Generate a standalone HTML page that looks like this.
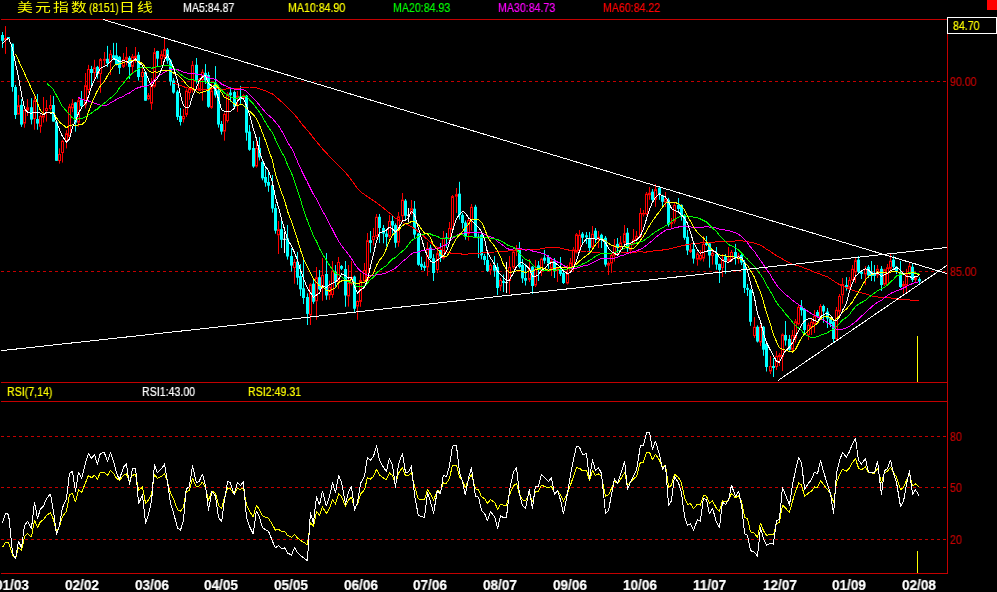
<!DOCTYPE html>
<html><head><meta charset="utf-8"><title>美元指数日线</title>
<style>
html,body{margin:0;padding:0;background:#000;}
#c{position:relative;width:997px;height:592px;overflow:hidden;background:#000;font-family:"Liberation Sans","Noto Sans CJK SC",sans-serif;}
.t{position:absolute;white-space:nowrap;font-size:12px;transform-origin:0 0;will-change:transform;-webkit-text-stroke:0.2px currentColor;}
.cj{-webkit-text-stroke:0;font-size:12px;line-height:14px;color:#ffff00;transform:scaleX(1.32);font-family:"Liberation Sans","Noto Sans CJK SC",sans-serif;}
</style></head><body><div id="c">
<svg width="997" height="592" viewBox="0 0 997 592" style="position:absolute;left:0;top:0">
<rect width="997" height="592" fill="#000"/>
<line x1="1" y1="19.5" x2="947" y2="19.5" stroke="#c40000" stroke-width="1"/>
<line x1="1" y1="382.5" x2="947" y2="382.5" stroke="#c40000" stroke-width="1"/>
<line x1="1" y1="401.5" x2="947" y2="401.5" stroke="#c40000" stroke-width="1"/>
<line x1="1" y1="573.5" x2="947" y2="573.5" stroke="#c40000" stroke-width="1"/>
<line x1="947.5" y1="19" x2="947.5" y2="574" stroke="#c40000" stroke-width="1"/>
<line x1="1" y1="81.5" x2="947" y2="81.5" stroke="#c40000" stroke-width="1" stroke-dasharray="3 3"/>
<line x1="1" y1="271.5" x2="947" y2="271.5" stroke="#c40000" stroke-width="1" stroke-dasharray="3 3"/>
<line x1="1" y1="436.5" x2="947" y2="436.5" stroke="#c40000" stroke-width="1" stroke-dasharray="3 3"/>
<line x1="1" y1="487.5" x2="947" y2="487.5" stroke="#c40000" stroke-width="1" stroke-dasharray="3 3"/>
<line x1="1" y1="539.5" x2="947" y2="539.5" stroke="#c40000" stroke-width="1" stroke-dasharray="3 3"/>
<rect x="987" y="0" width="10" height="10" fill="#ff0000"/>
<g><path d="M2.5 32.0V47.9" stroke="#00ffff" stroke-width="1"/><rect x="1.0" y="35.0" width="3" height="5.8" fill="#00ffff"/><path d="M5.5 26.1V38.0" stroke="#ff0000" stroke-width="1"/><path d="M5.5 40.3V53.9" stroke="#ff0000" stroke-width="1"/><rect x="4.5" y="38.5" width="2" height="1.3" fill="#000" stroke="#ff0000" stroke-width="1"/><path d="M8.5 37.0V38.7" stroke="#00ffff" stroke-width="1"/><rect x="7.0" y="37.0" width="3" height="1.7" fill="#00ffff"/><path d="M12.5 43.7V91.7" stroke="#00ffff" stroke-width="1"/><rect x="11.0" y="43.7" width="3" height="43.3" fill="#00ffff"/><path d="M15.5 84.9V119.0" stroke="#00ffff" stroke-width="1"/><rect x="14.0" y="87.0" width="3" height="28.0" fill="#00ffff"/><path d="M18.5 95.0V105.2" stroke="#ff0000" stroke-width="1"/><rect x="17.5" y="105.7" width="2" height="8.3" fill="#000" stroke="#ff0000" stroke-width="1"/><path d="M21.5 99.1V126.9" stroke="#00ffff" stroke-width="1"/><rect x="20.0" y="104.9" width="3" height="19.7" fill="#00ffff"/><path d="M24.5 109.4V110.0" stroke="#ff0000" stroke-width="1"/><path d="M24.5 123.6V127.7" stroke="#ff0000" stroke-width="1"/><rect x="23.5" y="110.5" width="2" height="12.6" fill="#000" stroke="#ff0000" stroke-width="1"/><path d="M27.5 99.1V107.2" stroke="#ff0000" stroke-width="1"/><path d="M27.5 110.5V116.0" stroke="#ff0000" stroke-width="1"/><rect x="26.5" y="107.7" width="2" height="2.3" fill="#000" stroke="#ff0000" stroke-width="1"/><path d="M31.5 98.1V124.4" stroke="#00ffff" stroke-width="1"/><rect x="30.0" y="107.2" width="3" height="12.4" fill="#00ffff"/><path d="M34.5 96.3V100.3" stroke="#ff0000" stroke-width="1"/><path d="M34.5 119.0V129.7" stroke="#ff0000" stroke-width="1"/><rect x="33.5" y="100.8" width="2" height="17.7" fill="#000" stroke="#ff0000" stroke-width="1"/><path d="M37.5 94.0V129.7" stroke="#00ffff" stroke-width="1"/><rect x="36.0" y="119.0" width="3" height="4.6" fill="#00ffff"/><path d="M40.5 114.5V116.0" stroke="#ff0000" stroke-width="1"/><path d="M40.5 126.7V132.8" stroke="#ff0000" stroke-width="1"/><rect x="39.5" y="116.5" width="2" height="9.7" fill="#000" stroke="#ff0000" stroke-width="1"/><path d="M43.5 97.0V113.5" stroke="#ff0000" stroke-width="1"/><path d="M43.5 117.6V122.6" stroke="#ff0000" stroke-width="1"/><rect x="42.5" y="114.0" width="2" height="3.1" fill="#000" stroke="#ff0000" stroke-width="1"/><path d="M46.5 100.0V108.0" stroke="#ff0000" stroke-width="1"/><path d="M46.5 111.0V121.6" stroke="#ff0000" stroke-width="1"/><rect x="45.5" y="108.5" width="2" height="2.0" fill="#000" stroke="#ff0000" stroke-width="1"/><path d="M50.5 95.0V105.0" stroke="#ff0000" stroke-width="1"/><path d="M50.5 109.0V110.5" stroke="#ff0000" stroke-width="1"/><rect x="49.5" y="105.5" width="2" height="3.0" fill="#000" stroke="#ff0000" stroke-width="1"/><path d="M53.5 96.0V121.6" stroke="#00ffff" stroke-width="1"/><rect x="52.0" y="105.0" width="3" height="16.6" fill="#00ffff"/><path d="M56.5 121.6V160.8" stroke="#00ffff" stroke-width="1"/><rect x="55.0" y="121.6" width="3" height="39.2" fill="#00ffff"/><path d="M59.5 148.4V154.0" stroke="#ff0000" stroke-width="1"/><path d="M59.5 161.0V163.6" stroke="#ff0000" stroke-width="1"/><rect x="58.5" y="154.5" width="2" height="6.0" fill="#000" stroke="#ff0000" stroke-width="1"/><path d="M62.5 139.8V140.8" stroke="#ff0000" stroke-width="1"/><path d="M62.5 153.0V162.6" stroke="#ff0000" stroke-width="1"/><rect x="61.5" y="141.3" width="2" height="11.2" fill="#000" stroke="#ff0000" stroke-width="1"/><path d="M66.5 130.2V133.2" stroke="#ff0000" stroke-width="1"/><path d="M66.5 141.8V148.4" stroke="#ff0000" stroke-width="1"/><rect x="65.5" y="133.7" width="2" height="7.6" fill="#000" stroke="#ff0000" stroke-width="1"/><path d="M69.5 103.9V106.4" stroke="#ff0000" stroke-width="1"/><path d="M69.5 136.8V138.0" stroke="#ff0000" stroke-width="1"/><rect x="68.5" y="106.9" width="2" height="29.4" fill="#000" stroke="#ff0000" stroke-width="1"/><path d="M72.5 99.1V103.4" stroke="#ff0000" stroke-width="1"/><path d="M72.5 108.4V112.0" stroke="#ff0000" stroke-width="1"/><rect x="71.5" y="103.9" width="2" height="4.0" fill="#000" stroke="#ff0000" stroke-width="1"/><path d="M75.5 102.0V131.7" stroke="#00ffff" stroke-width="1"/><rect x="74.0" y="102.4" width="3" height="20.2" fill="#00ffff"/><path d="M78.5 97.8V100.3" stroke="#ff0000" stroke-width="1"/><path d="M78.5 122.6V126.7" stroke="#ff0000" stroke-width="1"/><rect x="77.5" y="100.8" width="2" height="21.3" fill="#000" stroke="#ff0000" stroke-width="1"/><path d="M81.5 91.0V108.0" stroke="#00ffff" stroke-width="1"/><rect x="80.0" y="99.3" width="3" height="6.7" fill="#00ffff"/><path d="M85.5 73.0V85.2" stroke="#ff0000" stroke-width="1"/><path d="M85.5 105.4V108.4" stroke="#ff0000" stroke-width="1"/><rect x="84.5" y="85.7" width="2" height="19.2" fill="#000" stroke="#ff0000" stroke-width="1"/><path d="M88.5 64.9V69.0" stroke="#ff0000" stroke-width="1"/><path d="M88.5 90.2V93.2" stroke="#ff0000" stroke-width="1"/><rect x="87.5" y="69.5" width="2" height="20.2" fill="#000" stroke="#ff0000" stroke-width="1"/><path d="M91.5 65.9V85.0" stroke="#00ffff" stroke-width="1"/><rect x="90.0" y="69.0" width="3" height="4.0" fill="#00ffff"/><path d="M94.5 59.8V67.4" stroke="#ff0000" stroke-width="1"/><path d="M94.5 73.0V79.6" stroke="#ff0000" stroke-width="1"/><rect x="93.5" y="67.9" width="2" height="4.6" fill="#000" stroke="#ff0000" stroke-width="1"/><path d="M97.5 65.9V78.6" stroke="#00ffff" stroke-width="1"/><rect x="96.0" y="66.9" width="3" height="7.1" fill="#00ffff"/><path d="M100.5 58.1V59.1" stroke="#ff0000" stroke-width="1"/><path d="M100.5 74.0V92.8" stroke="#ff0000" stroke-width="1"/><rect x="99.5" y="59.6" width="2" height="13.9" fill="#000" stroke="#ff0000" stroke-width="1"/><path d="M104.5 52.0V58.8" stroke="#ff0000" stroke-width="1"/><path d="M104.5 60.8V65.4" stroke="#ff0000" stroke-width="1"/><rect x="103.5" y="59.3" width="2" height="1.0" fill="#000" stroke="#ff0000" stroke-width="1"/><path d="M107.5 45.9V66.9" stroke="#00ffff" stroke-width="1"/><rect x="106.0" y="58.8" width="3" height="4.6" fill="#00ffff"/><path d="M110.5 50.0V53.7" stroke="#ff0000" stroke-width="1"/><path d="M110.5 62.4V75.0" stroke="#ff0000" stroke-width="1"/><rect x="109.5" y="54.2" width="2" height="7.7" fill="#000" stroke="#ff0000" stroke-width="1"/><path d="M113.5 42.9V60.0" stroke="#00ffff" stroke-width="1"/><rect x="112.0" y="55.3" width="3" height="3.0" fill="#00ffff"/><path d="M116.5 42.9V65.4" stroke="#00ffff" stroke-width="1"/><rect x="115.0" y="55.3" width="3" height="9.1" fill="#00ffff"/><path d="M119.5 56.0V74.0" stroke="#00ffff" stroke-width="1"/><rect x="118.0" y="56.8" width="3" height="11.1" fill="#00ffff"/><path d="M123.5 53.0V59.3" stroke="#ff0000" stroke-width="1"/><path d="M123.5 66.9V68.0" stroke="#ff0000" stroke-width="1"/><rect x="122.5" y="59.8" width="2" height="6.6" fill="#000" stroke="#ff0000" stroke-width="1"/><path d="M126.5 47.0V56.8" stroke="#ff0000" stroke-width="1"/><path d="M126.5 59.8V65.4" stroke="#ff0000" stroke-width="1"/><rect x="125.5" y="57.3" width="2" height="2.0" fill="#000" stroke="#ff0000" stroke-width="1"/><path d="M129.5 56.0V79.0" stroke="#00ffff" stroke-width="1"/><rect x="128.0" y="57.8" width="3" height="9.1" fill="#00ffff"/><path d="M132.5 54.0V56.3" stroke="#ff0000" stroke-width="1"/><path d="M132.5 66.9V73.0" stroke="#ff0000" stroke-width="1"/><rect x="131.5" y="56.8" width="2" height="9.6" fill="#000" stroke="#ff0000" stroke-width="1"/><path d="M135.5 47.0V55.8" stroke="#ff0000" stroke-width="1"/><path d="M135.5 58.8V62.9" stroke="#ff0000" stroke-width="1"/><rect x="134.5" y="56.3" width="2" height="2.0" fill="#000" stroke="#ff0000" stroke-width="1"/><path d="M138.5 52.0V80.6" stroke="#00ffff" stroke-width="1"/><rect x="137.0" y="54.8" width="3" height="22.2" fill="#00ffff"/><path d="M142.5 67.3V72.0" stroke="#ff0000" stroke-width="1"/><path d="M142.5 77.0V86.0" stroke="#ff0000" stroke-width="1"/><rect x="141.5" y="72.5" width="2" height="4.0" fill="#000" stroke="#ff0000" stroke-width="1"/><path d="M145.5 71.0V100.7" stroke="#00ffff" stroke-width="1"/><rect x="144.0" y="72.0" width="3" height="28.7" fill="#00ffff"/><path d="M148.5 93.0V95.1" stroke="#ff0000" stroke-width="1"/><path d="M148.5 99.2V100.2" stroke="#ff0000" stroke-width="1"/><rect x="147.5" y="95.6" width="2" height="3.1" fill="#000" stroke="#ff0000" stroke-width="1"/><path d="M151.5 78.0V86.0" stroke="#ff0000" stroke-width="1"/><path d="M151.5 103.7V109.8" stroke="#ff0000" stroke-width="1"/><rect x="150.5" y="86.5" width="2" height="16.7" fill="#000" stroke="#ff0000" stroke-width="1"/><path d="M154.5 48.0V52.2" stroke="#ff0000" stroke-width="1"/><path d="M154.5 86.6V87.6" stroke="#ff0000" stroke-width="1"/><rect x="153.5" y="52.7" width="2" height="33.4" fill="#000" stroke="#ff0000" stroke-width="1"/><path d="M157.5 50.7V66.8" stroke="#00ffff" stroke-width="1"/><rect x="156.0" y="51.0" width="3" height="7.7" fill="#00ffff"/><path d="M161.5 50.6V54.2" stroke="#ff0000" stroke-width="1"/><path d="M161.5 59.2V64.8" stroke="#ff0000" stroke-width="1"/><rect x="160.5" y="54.7" width="2" height="4.0" fill="#000" stroke="#ff0000" stroke-width="1"/><path d="M164.5 38.0V49.1" stroke="#ff0000" stroke-width="1"/><path d="M164.5 56.7V60.0" stroke="#ff0000" stroke-width="1"/><rect x="163.5" y="49.6" width="2" height="6.6" fill="#000" stroke="#ff0000" stroke-width="1"/><path d="M167.5 48.0V63.8" stroke="#00ffff" stroke-width="1"/><rect x="166.0" y="49.6" width="3" height="11.2" fill="#00ffff"/><path d="M170.5 59.0V85.6" stroke="#00ffff" stroke-width="1"/><rect x="169.0" y="60.3" width="3" height="21.2" fill="#00ffff"/><path d="M173.5 78.0V93.7" stroke="#00ffff" stroke-width="1"/><rect x="172.0" y="80.5" width="3" height="12.1" fill="#00ffff"/><path d="M177.5 90.0V120.0" stroke="#00ffff" stroke-width="1"/><rect x="176.0" y="91.6" width="3" height="25.3" fill="#00ffff"/><path d="M180.5 108.0V125.5" stroke="#00ffff" stroke-width="1"/><rect x="179.0" y="115.9" width="3" height="6.1" fill="#00ffff"/><path d="M183.5 109.0V115.9" stroke="#ff0000" stroke-width="1"/><path d="M183.5 119.4V122.5" stroke="#ff0000" stroke-width="1"/><rect x="182.5" y="116.4" width="2" height="2.5" fill="#000" stroke="#ff0000" stroke-width="1"/><path d="M186.5 88.6V90.6" stroke="#ff0000" stroke-width="1"/><path d="M186.5 114.9V116.9" stroke="#ff0000" stroke-width="1"/><rect x="185.5" y="91.1" width="2" height="23.3" fill="#000" stroke="#ff0000" stroke-width="1"/><path d="M189.5 87.6V88.6" stroke="#ff0000" stroke-width="1"/><path d="M189.5 93.1V99.7" stroke="#ff0000" stroke-width="1"/><rect x="188.5" y="89.1" width="2" height="3.5" fill="#000" stroke="#ff0000" stroke-width="1"/><path d="M192.5 61.0V64.8" stroke="#ff0000" stroke-width="1"/><path d="M192.5 90.3V92.6" stroke="#ff0000" stroke-width="1"/><rect x="191.5" y="65.3" width="2" height="24.5" fill="#000" stroke="#ff0000" stroke-width="1"/><path d="M196.5 58.0V83.6" stroke="#00ffff" stroke-width="1"/><rect x="195.0" y="64.8" width="3" height="15.7" fill="#00ffff"/><path d="M199.5 78.0V79.0" stroke="#ff0000" stroke-width="1"/><path d="M199.5 89.8V91.0" stroke="#ff0000" stroke-width="1"/><rect x="198.5" y="79.5" width="2" height="9.8" fill="#000" stroke="#ff0000" stroke-width="1"/><path d="M202.5 69.2V71.9" stroke="#ff0000" stroke-width="1"/><path d="M202.5 80.0V100.7" stroke="#ff0000" stroke-width="1"/><rect x="201.5" y="72.4" width="2" height="7.1" fill="#000" stroke="#ff0000" stroke-width="1"/><path d="M205.5 64.1V84.0" stroke="#00ffff" stroke-width="1"/><rect x="204.0" y="72.9" width="3" height="7.6" fill="#00ffff"/><path d="M208.5 71.9V107.8" stroke="#00ffff" stroke-width="1"/><rect x="207.0" y="75.0" width="3" height="31.8" fill="#00ffff"/><path d="M211.5 83.6V90.6" stroke="#ff0000" stroke-width="1"/><path d="M211.5 107.8V108.8" stroke="#ff0000" stroke-width="1"/><rect x="210.5" y="91.1" width="2" height="16.2" fill="#000" stroke="#ff0000" stroke-width="1"/><path d="M215.5 66.1V97.7" stroke="#00ffff" stroke-width="1"/><rect x="214.0" y="82.6" width="3" height="12.8" fill="#00ffff"/><path d="M218.5 89.0V127.6" stroke="#00ffff" stroke-width="1"/><rect x="217.0" y="90.3" width="3" height="34.2" fill="#00ffff"/><path d="M221.5 121.0V134.6" stroke="#00ffff" stroke-width="1"/><rect x="220.0" y="124.0" width="3" height="7.6" fill="#00ffff"/><path d="M224.5 112.4V113.9" stroke="#ff0000" stroke-width="1"/><path d="M224.5 131.6V140.7" stroke="#ff0000" stroke-width="1"/><rect x="223.5" y="114.4" width="2" height="16.7" fill="#000" stroke="#ff0000" stroke-width="1"/><path d="M227.5 92.1V93.6" stroke="#ff0000" stroke-width="1"/><path d="M227.5 121.0V122.5" stroke="#ff0000" stroke-width="1"/><rect x="226.5" y="94.1" width="2" height="26.4" fill="#000" stroke="#ff0000" stroke-width="1"/><path d="M230.5 87.3V101.8" stroke="#00ffff" stroke-width="1"/><rect x="229.0" y="92.6" width="3" height="2.6" fill="#00ffff"/><path d="M234.5 90.6V108.4" stroke="#00ffff" stroke-width="1"/><rect x="233.0" y="92.0" width="3" height="14.8" fill="#00ffff"/><path d="M237.5 91.0V95.7" stroke="#ff0000" stroke-width="1"/><path d="M237.5 97.7V112.0" stroke="#ff0000" stroke-width="1"/><rect x="236.5" y="96.2" width="2" height="1.0" fill="#000" stroke="#ff0000" stroke-width="1"/><path d="M240.5 85.9V103.8" stroke="#00ffff" stroke-width="1"/><rect x="239.0" y="96.5" width="3" height="1.5" fill="#00ffff"/><path d="M243.5 94.2V95.2" stroke="#ff0000" stroke-width="1"/><path d="M243.5 98.7V99.5" stroke="#ff0000" stroke-width="1"/><rect x="242.5" y="95.7" width="2" height="2.5" fill="#000" stroke="#ff0000" stroke-width="1"/><path d="M246.5 95.0V140.7" stroke="#00ffff" stroke-width="1"/><rect x="245.0" y="95.7" width="3" height="37.0" fill="#00ffff"/><path d="M249.5 125.0V150.8" stroke="#00ffff" stroke-width="1"/><rect x="248.0" y="131.6" width="3" height="18.2" fill="#00ffff"/><path d="M253.5 141.0V167.8" stroke="#00ffff" stroke-width="1"/><rect x="252.0" y="148.0" width="3" height="18.5" fill="#00ffff"/><path d="M256.5 141.0V148.0" stroke="#ff0000" stroke-width="1"/><path d="M256.5 166.5V167.6" stroke="#ff0000" stroke-width="1"/><rect x="255.5" y="148.5" width="2" height="17.5" fill="#000" stroke="#ff0000" stroke-width="1"/><path d="M259.5 137.0V160.5" stroke="#00ffff" stroke-width="1"/><rect x="258.0" y="148.0" width="3" height="9.4" fill="#00ffff"/><path d="M262.5 160.5V180.3" stroke="#00ffff" stroke-width="1"/><rect x="261.0" y="162.0" width="3" height="16.3" fill="#00ffff"/><path d="M265.5 168.6V186.7" stroke="#00ffff" stroke-width="1"/><rect x="264.0" y="177.0" width="3" height="5.7" fill="#00ffff"/><path d="M268.5 170.0V191.8" stroke="#00ffff" stroke-width="1"/><rect x="267.0" y="182.0" width="3" height="3.7" fill="#00ffff"/><path d="M272.5 175.0V212.6" stroke="#00ffff" stroke-width="1"/><rect x="271.0" y="185.2" width="3" height="23.3" fill="#00ffff"/><path d="M275.5 204.0V233.7" stroke="#00ffff" stroke-width="1"/><rect x="274.0" y="208.0" width="3" height="22.7" fill="#00ffff"/><path d="M278.5 221.0V229.2" stroke="#ff0000" stroke-width="1"/><path d="M278.5 235.3V254.0" stroke="#ff0000" stroke-width="1"/><rect x="277.5" y="229.7" width="2" height="5.1" fill="#000" stroke="#ff0000" stroke-width="1"/><path d="M281.5 219.6V248.0" stroke="#00ffff" stroke-width="1"/><rect x="280.0" y="229.2" width="3" height="10.6" fill="#00ffff"/><path d="M284.5 231.7V253.0M283.0 239.3H286.0" stroke="#ffffff" stroke-width="1" fill="none"/><path d="M287.5 225.0V259.6" stroke="#00ffff" stroke-width="1"/><rect x="286.0" y="238.3" width="3" height="18.2" fill="#00ffff"/><path d="M291.5 248.0V271.6" stroke="#00ffff" stroke-width="1"/><rect x="290.0" y="256.0" width="3" height="9.6" fill="#00ffff"/><path d="M294.5 259.0V262.0" stroke="#ff0000" stroke-width="1"/><path d="M294.5 268.0V283.7" stroke="#ff0000" stroke-width="1"/><rect x="293.5" y="262.5" width="2" height="5.0" fill="#000" stroke="#ff0000" stroke-width="1"/><path d="M297.5 252.0V284.8" stroke="#00ffff" stroke-width="1"/><rect x="296.0" y="261.6" width="3" height="16.1" fill="#00ffff"/><path d="M300.5 264.0V296.0" stroke="#00ffff" stroke-width="1"/><rect x="299.0" y="276.0" width="3" height="13.3" fill="#00ffff"/><path d="M303.5 260.0V304.0" stroke="#00ffff" stroke-width="1"/><rect x="302.0" y="288.3" width="3" height="9.7" fill="#00ffff"/><path d="M307.5 293.4V325.0" stroke="#00ffff" stroke-width="1"/><rect x="306.0" y="297.0" width="3" height="16.9" fill="#00ffff"/><path d="M310.5 283.2V284.3" stroke="#ff0000" stroke-width="1"/><path d="M310.5 315.3V325.0" stroke="#ff0000" stroke-width="1"/><rect x="309.5" y="284.8" width="2" height="30.0" fill="#000" stroke="#ff0000" stroke-width="1"/><path d="M313.5 278.7V303.8" stroke="#00ffff" stroke-width="1"/><rect x="312.0" y="283.7" width="3" height="18.1" fill="#00ffff"/><path d="M316.5 267.0V277.2" stroke="#ff0000" stroke-width="1"/><path d="M316.5 301.3V319.8" stroke="#ff0000" stroke-width="1"/><rect x="315.5" y="277.7" width="2" height="23.1" fill="#000" stroke="#ff0000" stroke-width="1"/><path d="M319.5 270.0V290.3" stroke="#00ffff" stroke-width="1"/><rect x="318.0" y="277.2" width="3" height="12.1" fill="#00ffff"/><path d="M322.5 258.0V275.0" stroke="#ff0000" stroke-width="1"/><path d="M322.5 286.0V300.8" stroke="#ff0000" stroke-width="1"/><rect x="321.5" y="275.5" width="2" height="10.0" fill="#000" stroke="#ff0000" stroke-width="1"/><path d="M326.5 253.0V299.8" stroke="#00ffff" stroke-width="1"/><rect x="325.0" y="274.0" width="3" height="21.5" fill="#00ffff"/><path d="M329.5 280.7V286.8" stroke="#ff0000" stroke-width="1"/><path d="M329.5 295.4V299.8" stroke="#ff0000" stroke-width="1"/><rect x="328.5" y="287.3" width="2" height="7.6" fill="#000" stroke="#ff0000" stroke-width="1"/><path d="M332.5 261.0V270.6" stroke="#ff0000" stroke-width="1"/><path d="M332.5 295.0V297.8" stroke="#ff0000" stroke-width="1"/><rect x="331.5" y="271.1" width="2" height="23.4" fill="#000" stroke="#ff0000" stroke-width="1"/><path d="M335.5 265.0V286.8" stroke="#00ffff" stroke-width="1"/><rect x="334.0" y="271.6" width="3" height="10.1" fill="#00ffff"/><path d="M338.5 257.0V262.0" stroke="#ff0000" stroke-width="1"/><path d="M338.5 282.0V288.8" stroke="#ff0000" stroke-width="1"/><rect x="337.5" y="262.5" width="2" height="19.0" fill="#000" stroke="#ff0000" stroke-width="1"/><path d="M341.5 265.0V270.0" stroke="#00ffff" stroke-width="1"/><rect x="340.0" y="266.0" width="3" height="2.7" fill="#00ffff"/><path d="M345.5 261.0V306.8" stroke="#00ffff" stroke-width="1"/><rect x="344.0" y="269.0" width="3" height="26.5" fill="#00ffff"/><path d="M348.5 265.0V282.7" stroke="#ff0000" stroke-width="1"/><path d="M348.5 296.5V306.6" stroke="#ff0000" stroke-width="1"/><rect x="347.5" y="283.2" width="2" height="12.8" fill="#000" stroke="#ff0000" stroke-width="1"/><path d="M351.5 261.0V277.0" stroke="#ff0000" stroke-width="1"/><path d="M351.5 284.0V285.5" stroke="#ff0000" stroke-width="1"/><rect x="350.5" y="277.5" width="2" height="6.0" fill="#000" stroke="#ff0000" stroke-width="1"/><path d="M354.5 275.6V311.9" stroke="#00ffff" stroke-width="1"/><rect x="353.0" y="276.6" width="3" height="32.1" fill="#00ffff"/><path d="M357.5 300.5V301.0" stroke="#ff0000" stroke-width="1"/><path d="M357.5 306.6V319.8" stroke="#ff0000" stroke-width="1"/><rect x="356.5" y="301.5" width="2" height="4.6" fill="#000" stroke="#ff0000" stroke-width="1"/><path d="M360.5 273.0V280.1" stroke="#ff0000" stroke-width="1"/><path d="M360.5 301.9V306.8" stroke="#ff0000" stroke-width="1"/><rect x="359.5" y="280.6" width="2" height="20.8" fill="#000" stroke="#ff0000" stroke-width="1"/><path d="M364.5 263.0V270.0" stroke="#ff0000" stroke-width="1"/><path d="M364.5 281.0V282.0" stroke="#ff0000" stroke-width="1"/><rect x="363.5" y="270.5" width="2" height="10.0" fill="#000" stroke="#ff0000" stroke-width="1"/><path d="M367.5 233.0V240.2" stroke="#ff0000" stroke-width="1"/><path d="M367.5 280.5V281.5" stroke="#ff0000" stroke-width="1"/><rect x="366.5" y="240.7" width="2" height="39.3" fill="#000" stroke="#ff0000" stroke-width="1"/><path d="M370.5 231.0V252.7" stroke="#00ffff" stroke-width="1"/><rect x="369.0" y="240.2" width="3" height="2.7" fill="#00ffff"/><path d="M373.5 228.0V236.0" stroke="#ff0000" stroke-width="1"/><path d="M373.5 240.0V245.4" stroke="#ff0000" stroke-width="1"/><rect x="372.5" y="236.5" width="2" height="3.0" fill="#000" stroke="#ff0000" stroke-width="1"/><path d="M376.5 214.0V216.8" stroke="#ff0000" stroke-width="1"/><path d="M376.5 236.6V238.6" stroke="#ff0000" stroke-width="1"/><rect x="375.5" y="217.3" width="2" height="18.8" fill="#000" stroke="#ff0000" stroke-width="1"/><path d="M379.5 214.0V243.0" stroke="#00ffff" stroke-width="1"/><rect x="378.0" y="216.8" width="3" height="11.2" fill="#00ffff"/><path d="M383.5 225.0V243.3" stroke="#00ffff" stroke-width="1"/><rect x="382.0" y="228.0" width="3" height="5.6" fill="#00ffff"/><path d="M386.5 230.0V246.6" stroke="#00ffff" stroke-width="1"/><rect x="385.0" y="233.6" width="3" height="3.4" fill="#00ffff"/><path d="M389.5 215.0V221.0" stroke="#ff0000" stroke-width="1"/><path d="M389.5 236.6V238.0" stroke="#ff0000" stroke-width="1"/><rect x="388.5" y="221.5" width="2" height="14.6" fill="#000" stroke="#ff0000" stroke-width="1"/><path d="M392.5 215.0V233.6" stroke="#00ffff" stroke-width="1"/><rect x="391.0" y="221.0" width="3" height="4.5" fill="#00ffff"/><path d="M395.5 223.4V247.7" stroke="#00ffff" stroke-width="1"/><rect x="394.0" y="225.0" width="3" height="17.8" fill="#00ffff"/><path d="M398.5 212.0V216.3" stroke="#ff0000" stroke-width="1"/><path d="M398.5 242.7V246.7" stroke="#ff0000" stroke-width="1"/><rect x="397.5" y="216.8" width="2" height="25.4" fill="#000" stroke="#ff0000" stroke-width="1"/><path d="M402.5 193.0V199.6" stroke="#ff0000" stroke-width="1"/><path d="M402.5 216.3V220.4" stroke="#ff0000" stroke-width="1"/><rect x="401.5" y="200.1" width="2" height="15.7" fill="#000" stroke="#ff0000" stroke-width="1"/><path d="M405.5 199.0V219.4" stroke="#00ffff" stroke-width="1"/><rect x="404.0" y="200.6" width="3" height="15.2" fill="#00ffff"/><path d="M408.5 208.0V222.4M407.0 215.3H410.0" stroke="#ffffff" stroke-width="1" fill="none"/><path d="M411.5 200.0V208.2" stroke="#ff0000" stroke-width="1"/><path d="M411.5 213.3V214.8" stroke="#ff0000" stroke-width="1"/><rect x="410.5" y="208.7" width="2" height="4.1" fill="#000" stroke="#ff0000" stroke-width="1"/><path d="M414.5 201.0V238.6" stroke="#00ffff" stroke-width="1"/><rect x="413.0" y="208.7" width="3" height="25.9" fill="#00ffff"/><path d="M418.5 233.0V265.8" stroke="#00ffff" stroke-width="1"/><rect x="417.0" y="233.6" width="3" height="31.2" fill="#00ffff"/><path d="M421.5 256.7V270.0" stroke="#00ffff" stroke-width="1"/><rect x="420.0" y="263.8" width="3" height="3.0" fill="#00ffff"/><path d="M424.5 261.8V271.0" stroke="#00ffff" stroke-width="1"/><rect x="423.0" y="265.8" width="3" height="2.1" fill="#00ffff"/><path d="M427.5 242.0V248.0" stroke="#ff0000" stroke-width="1"/><path d="M427.5 267.4V276.0" stroke="#ff0000" stroke-width="1"/><rect x="426.5" y="248.5" width="2" height="18.4" fill="#000" stroke="#ff0000" stroke-width="1"/><path d="M430.5 244.8V259.0" stroke="#00ffff" stroke-width="1"/><rect x="429.0" y="247.6" width="3" height="10.6" fill="#00ffff"/><path d="M433.5 254.2V281.0" stroke="#00ffff" stroke-width="1"/><rect x="432.0" y="258.2" width="3" height="14.8" fill="#00ffff"/><path d="M437.5 249.6V253.2" stroke="#ff0000" stroke-width="1"/><path d="M437.5 270.0V273.0" stroke="#ff0000" stroke-width="1"/><rect x="436.5" y="253.7" width="2" height="15.8" fill="#000" stroke="#ff0000" stroke-width="1"/><path d="M440.5 243.0V262.0" stroke="#00ffff" stroke-width="1"/><rect x="439.0" y="250.0" width="3" height="6.4" fill="#00ffff"/><path d="M443.5 231.0V237.7" stroke="#ff0000" stroke-width="1"/><path d="M443.5 258.3V259.5" stroke="#ff0000" stroke-width="1"/><rect x="442.5" y="238.2" width="2" height="19.6" fill="#000" stroke="#ff0000" stroke-width="1"/><path d="M446.5 233.0V247.8" stroke="#00ffff" stroke-width="1"/><rect x="445.0" y="237.4" width="3" height="1.5" fill="#00ffff"/><path d="M449.5 222.0V228.0" stroke="#ff0000" stroke-width="1"/><path d="M449.5 239.7V240.7" stroke="#ff0000" stroke-width="1"/><rect x="448.5" y="228.5" width="2" height="10.7" fill="#000" stroke="#ff0000" stroke-width="1"/><path d="M452.5 195.0V196.1" stroke="#ff0000" stroke-width="1"/><path d="M452.5 229.6V230.6" stroke="#ff0000" stroke-width="1"/><rect x="451.5" y="196.6" width="2" height="32.5" fill="#000" stroke="#ff0000" stroke-width="1"/><path d="M456.5 188.0V194.2" stroke="#ff0000" stroke-width="1"/><path d="M456.5 196.7V213.0" stroke="#ff0000" stroke-width="1"/><rect x="455.5" y="194.7" width="2" height="1.5" fill="#000" stroke="#ff0000" stroke-width="1"/><path d="M459.5 181.8V219.5" stroke="#00ffff" stroke-width="1"/><rect x="458.0" y="193.7" width="3" height="21.3" fill="#00ffff"/><path d="M462.5 213.0V228.6" stroke="#00ffff" stroke-width="1"/><rect x="461.0" y="215.0" width="3" height="8.0" fill="#00ffff"/><path d="M465.5 220.5V239.7" stroke="#00ffff" stroke-width="1"/><rect x="464.0" y="222.6" width="3" height="14.1" fill="#00ffff"/><path d="M468.5 219.0V220.0" stroke="#ff0000" stroke-width="1"/><path d="M468.5 234.0V240.7" stroke="#ff0000" stroke-width="1"/><rect x="467.5" y="220.5" width="2" height="13.0" fill="#000" stroke="#ff0000" stroke-width="1"/><path d="M471.5 204.0V206.8" stroke="#ff0000" stroke-width="1"/><path d="M471.5 220.0V230.6" stroke="#ff0000" stroke-width="1"/><rect x="470.5" y="207.3" width="2" height="12.2" fill="#000" stroke="#ff0000" stroke-width="1"/><path d="M475.5 204.8V237.7" stroke="#00ffff" stroke-width="1"/><rect x="474.0" y="206.8" width="3" height="29.9" fill="#00ffff"/><path d="M478.5 233.6V258.0" stroke="#00ffff" stroke-width="1"/><rect x="477.0" y="236.7" width="3" height="1.5" fill="#00ffff"/><path d="M481.5 233.6V259.4" stroke="#00ffff" stroke-width="1"/><rect x="480.0" y="235.0" width="3" height="20.4" fill="#00ffff"/><path d="M484.5 253.9V265.0" stroke="#00ffff" stroke-width="1"/><rect x="483.0" y="256.0" width="3" height="4.0" fill="#00ffff"/><path d="M487.5 253.9V272.0" stroke="#00ffff" stroke-width="1"/><rect x="486.0" y="260.0" width="3" height="11.0" fill="#00ffff"/><path d="M490.5 263.0V265.0" stroke="#ff0000" stroke-width="1"/><path d="M490.5 270.5V274.8" stroke="#ff0000" stroke-width="1"/><rect x="489.5" y="265.5" width="2" height="4.5" fill="#000" stroke="#ff0000" stroke-width="1"/><path d="M494.5 256.0V276.8" stroke="#00ffff" stroke-width="1"/><rect x="493.0" y="264.9" width="3" height="5.8" fill="#00ffff"/><path d="M497.5 263.0V295.0" stroke="#00ffff" stroke-width="1"/><rect x="496.0" y="266.9" width="3" height="21.1" fill="#00ffff"/><path d="M500.5 278.0V280.0" stroke="#ff0000" stroke-width="1"/><path d="M500.5 286.5V291.0" stroke="#ff0000" stroke-width="1"/><rect x="499.5" y="280.5" width="2" height="5.5" fill="#000" stroke="#ff0000" stroke-width="1"/><path d="M503.5 274.5V292.0" stroke="#00ffff" stroke-width="1"/><rect x="502.0" y="281.0" width="3" height="2.0" fill="#00ffff"/><path d="M506.5 262.0V293.0M505.0 282.6H508.0" stroke="#ffffff" stroke-width="1" fill="none"/><path d="M509.5 256.0V266.9" stroke="#ff0000" stroke-width="1"/><path d="M509.5 281.0V294.0" stroke="#ff0000" stroke-width="1"/><rect x="508.5" y="267.4" width="2" height="13.1" fill="#000" stroke="#ff0000" stroke-width="1"/><path d="M513.5 249.7V251.7" stroke="#ff0000" stroke-width="1"/><path d="M513.5 267.5V269.0" stroke="#ff0000" stroke-width="1"/><rect x="512.5" y="252.2" width="2" height="14.8" fill="#000" stroke="#ff0000" stroke-width="1"/><path d="M516.5 245.0V248.0" stroke="#ff0000" stroke-width="1"/><path d="M516.5 251.0V256.0" stroke="#ff0000" stroke-width="1"/><rect x="515.5" y="248.5" width="2" height="2.0" fill="#000" stroke="#ff0000" stroke-width="1"/><path d="M519.5 242.0V268.5" stroke="#00ffff" stroke-width="1"/><rect x="518.0" y="248.9" width="3" height="18.1" fill="#00ffff"/><path d="M522.5 259.0V283.0" stroke="#00ffff" stroke-width="1"/><rect x="521.0" y="264.9" width="3" height="13.5" fill="#00ffff"/><path d="M525.5 263.7V285.5" stroke="#00ffff" stroke-width="1"/><rect x="524.0" y="278.0" width="3" height="2.7" fill="#00ffff"/><path d="M529.5 259.0V268.7" stroke="#ff0000" stroke-width="1"/><path d="M529.5 279.9V282.0" stroke="#ff0000" stroke-width="1"/><rect x="528.5" y="269.2" width="2" height="10.2" fill="#000" stroke="#ff0000" stroke-width="1"/><path d="M532.5 266.0V294.0" stroke="#00ffff" stroke-width="1"/><rect x="531.0" y="266.7" width="3" height="19.3" fill="#00ffff"/><path d="M535.5 260.0V268.9" stroke="#ff0000" stroke-width="1"/><path d="M535.5 285.5V287.0" stroke="#ff0000" stroke-width="1"/><rect x="534.5" y="269.4" width="2" height="15.6" fill="#000" stroke="#ff0000" stroke-width="1"/><path d="M538.5 261.0V281.0" stroke="#00ffff" stroke-width="1"/><rect x="537.0" y="265.3" width="3" height="4.0" fill="#00ffff"/><path d="M541.5 257.7V258.7" stroke="#ff0000" stroke-width="1"/><path d="M541.5 271.3V276.0" stroke="#ff0000" stroke-width="1"/><rect x="540.5" y="259.2" width="2" height="11.6" fill="#000" stroke="#ff0000" stroke-width="1"/><path d="M544.5 249.9V263.7" stroke="#00ffff" stroke-width="1"/><rect x="543.0" y="257.7" width="3" height="3.0" fill="#00ffff"/><path d="M548.5 255.0V268.8" stroke="#00ffff" stroke-width="1"/><rect x="547.0" y="257.0" width="3" height="6.2" fill="#00ffff"/><path d="M551.5 258.0V260.7" stroke="#ff0000" stroke-width="1"/><path d="M551.5 268.8V276.0" stroke="#ff0000" stroke-width="1"/><rect x="550.5" y="261.2" width="2" height="7.1" fill="#000" stroke="#ff0000" stroke-width="1"/><path d="M554.5 258.0V278.0" stroke="#00ffff" stroke-width="1"/><rect x="553.0" y="260.7" width="3" height="9.6" fill="#00ffff"/><path d="M557.5 267.3V268.0" stroke="#ff0000" stroke-width="1"/><path d="M557.5 271.0V282.0" stroke="#ff0000" stroke-width="1"/><rect x="556.5" y="268.5" width="2" height="2.0" fill="#000" stroke="#ff0000" stroke-width="1"/><path d="M560.5 257.0V276.0" stroke="#00ffff" stroke-width="1"/><rect x="559.0" y="269.8" width="3" height="4.1" fill="#00ffff"/><path d="M563.5 272.0V284.0" stroke="#00ffff" stroke-width="1"/><rect x="562.0" y="272.9" width="3" height="10.1" fill="#00ffff"/><path d="M567.5 265.0V273.4" stroke="#ff0000" stroke-width="1"/><path d="M567.5 283.5V284.5" stroke="#ff0000" stroke-width="1"/><rect x="566.5" y="273.9" width="2" height="9.1" fill="#000" stroke="#ff0000" stroke-width="1"/><path d="M570.5 258.0V262.4" stroke="#ff0000" stroke-width="1"/><path d="M570.5 271.5V272.5" stroke="#ff0000" stroke-width="1"/><rect x="569.5" y="262.9" width="2" height="8.1" fill="#000" stroke="#ff0000" stroke-width="1"/><path d="M573.5 247.1V249.5" stroke="#ff0000" stroke-width="1"/><path d="M573.5 267.5V271.8" stroke="#ff0000" stroke-width="1"/><rect x="572.5" y="250.0" width="2" height="17.0" fill="#000" stroke="#ff0000" stroke-width="1"/><path d="M576.5 233.0V234.3" stroke="#ff0000" stroke-width="1"/><path d="M576.5 252.5V253.5" stroke="#ff0000" stroke-width="1"/><rect x="575.5" y="234.8" width="2" height="17.2" fill="#000" stroke="#ff0000" stroke-width="1"/><path d="M579.5 230.0V234.8" stroke="#ff0000" stroke-width="1"/><path d="M579.5 250.5V251.5" stroke="#ff0000" stroke-width="1"/><rect x="578.5" y="235.3" width="2" height="14.7" fill="#000" stroke="#ff0000" stroke-width="1"/><path d="M582.5 232.0V244.4" stroke="#00ffff" stroke-width="1"/><rect x="581.0" y="233.7" width="3" height="4.1" fill="#00ffff"/><path d="M586.5 232.0V243.9" stroke="#00ffff" stroke-width="1"/><rect x="585.0" y="235.3" width="3" height="2.0" fill="#00ffff"/><path d="M589.5 232.0V254.0" stroke="#00ffff" stroke-width="1"/><rect x="588.0" y="238.3" width="3" height="9.7" fill="#00ffff"/><path d="M592.5 226.0V233.7" stroke="#ff0000" stroke-width="1"/><path d="M592.5 247.4V248.4" stroke="#ff0000" stroke-width="1"/><rect x="591.5" y="234.2" width="2" height="12.7" fill="#000" stroke="#ff0000" stroke-width="1"/><path d="M595.5 228.0V242.9" stroke="#00ffff" stroke-width="1"/><rect x="594.0" y="230.7" width="3" height="8.1" fill="#00ffff"/><path d="M598.5 231.0V236.8" stroke="#ff0000" stroke-width="1"/><path d="M598.5 239.3V248.0" stroke="#ff0000" stroke-width="1"/><rect x="597.5" y="237.3" width="2" height="1.5" fill="#000" stroke="#ff0000" stroke-width="1"/><path d="M601.5 233.7V248.0" stroke="#00ffff" stroke-width="1"/><rect x="600.0" y="234.8" width="3" height="4.5" fill="#00ffff"/><path d="M605.5 236.0V266.7" stroke="#00ffff" stroke-width="1"/><rect x="604.0" y="237.8" width="3" height="26.8" fill="#00ffff"/><path d="M608.5 261.6V263.0" stroke="#ff0000" stroke-width="1"/><path d="M608.5 265.7V275.0" stroke="#ff0000" stroke-width="1"/><rect x="607.5" y="263.5" width="2" height="1.7" fill="#000" stroke="#ff0000" stroke-width="1"/><path d="M611.5 254.0V255.0" stroke="#ff0000" stroke-width="1"/><path d="M611.5 263.6V272.8" stroke="#ff0000" stroke-width="1"/><rect x="610.5" y="255.5" width="2" height="7.6" fill="#000" stroke="#ff0000" stroke-width="1"/><path d="M614.5 239.0V245.4" stroke="#ff0000" stroke-width="1"/><path d="M614.5 255.5V261.6" stroke="#ff0000" stroke-width="1"/><rect x="613.5" y="245.9" width="2" height="9.1" fill="#000" stroke="#ff0000" stroke-width="1"/><path d="M617.5 238.0V255.0" stroke="#00ffff" stroke-width="1"/><rect x="616.0" y="243.9" width="3" height="4.1" fill="#00ffff"/><path d="M620.5 236.0V242.4" stroke="#ff0000" stroke-width="1"/><path d="M620.5 247.4V252.0" stroke="#ff0000" stroke-width="1"/><rect x="619.5" y="242.9" width="2" height="4.0" fill="#000" stroke="#ff0000" stroke-width="1"/><path d="M624.5 225.0V233.2" stroke="#ff0000" stroke-width="1"/><path d="M624.5 242.9V243.9" stroke="#ff0000" stroke-width="1"/><rect x="623.5" y="233.7" width="2" height="8.7" fill="#000" stroke="#ff0000" stroke-width="1"/><path d="M627.5 228.0V252.0" stroke="#00ffff" stroke-width="1"/><rect x="626.0" y="232.7" width="3" height="15.7" fill="#00ffff"/><path d="M630.5 242.4V243.4" stroke="#ff0000" stroke-width="1"/><path d="M630.5 250.5V254.0" stroke="#ff0000" stroke-width="1"/><rect x="629.5" y="243.9" width="2" height="6.1" fill="#000" stroke="#ff0000" stroke-width="1"/><path d="M633.5 229.0V239.3" stroke="#ff0000" stroke-width="1"/><path d="M633.5 244.4V245.4" stroke="#ff0000" stroke-width="1"/><rect x="632.5" y="239.8" width="2" height="4.1" fill="#000" stroke="#ff0000" stroke-width="1"/><path d="M636.5 231.0V235.8" stroke="#ff0000" stroke-width="1"/><path d="M636.5 239.8V240.8" stroke="#ff0000" stroke-width="1"/><rect x="635.5" y="236.3" width="2" height="3.0" fill="#000" stroke="#ff0000" stroke-width="1"/><path d="M640.5 208.0V213.0" stroke="#ff0000" stroke-width="1"/><path d="M640.5 236.8V237.8" stroke="#ff0000" stroke-width="1"/><rect x="639.5" y="213.5" width="2" height="22.8" fill="#000" stroke="#ff0000" stroke-width="1"/><path d="M643.5 210.0V213.0" stroke="#ff0000" stroke-width="1"/><path d="M643.5 214.5V216.5" stroke="#ff0000" stroke-width="1"/><rect x="642.5" y="213.5" width="2" height="0.5" fill="#000" stroke="#ff0000" stroke-width="1"/><path d="M646.5 192.0V193.7" stroke="#ff0000" stroke-width="1"/><path d="M646.5 214.0V215.5" stroke="#ff0000" stroke-width="1"/><rect x="645.5" y="194.2" width="2" height="19.3" fill="#000" stroke="#ff0000" stroke-width="1"/><path d="M649.5 187.0V192.7" stroke="#ff0000" stroke-width="1"/><path d="M649.5 195.3V199.8" stroke="#ff0000" stroke-width="1"/><rect x="648.5" y="193.2" width="2" height="1.6" fill="#000" stroke="#ff0000" stroke-width="1"/><path d="M652.5 189.0V202.9" stroke="#00ffff" stroke-width="1"/><rect x="651.0" y="191.7" width="3" height="8.1" fill="#00ffff"/><path d="M655.5 184.0V189.2" stroke="#ff0000" stroke-width="1"/><path d="M655.5 199.8V206.9" stroke="#ff0000" stroke-width="1"/><rect x="654.5" y="189.7" width="2" height="9.6" fill="#000" stroke="#ff0000" stroke-width="1"/><path d="M659.5 186.7V199.8" stroke="#00ffff" stroke-width="1"/><rect x="658.0" y="187.7" width="3" height="7.1" fill="#00ffff"/><path d="M662.5 194.8V206.4" stroke="#00ffff" stroke-width="1"/><rect x="661.0" y="195.3" width="3" height="6.5" fill="#00ffff"/><path d="M665.5 192.0V198.8" stroke="#ff0000" stroke-width="1"/><path d="M665.5 202.4V207.0" stroke="#ff0000" stroke-width="1"/><rect x="664.5" y="199.3" width="2" height="2.6" fill="#000" stroke="#ff0000" stroke-width="1"/><path d="M668.5 197.8V226.7" stroke="#00ffff" stroke-width="1"/><rect x="667.0" y="199.8" width="3" height="24.8" fill="#00ffff"/><path d="M671.5 218.0V222.0" stroke="#ff0000" stroke-width="1"/><path d="M671.5 224.0V228.7" stroke="#ff0000" stroke-width="1"/><rect x="670.5" y="222.5" width="2" height="1.0" fill="#000" stroke="#ff0000" stroke-width="1"/><path d="M674.5 202.9V204.9" stroke="#ff0000" stroke-width="1"/><path d="M674.5 221.6V223.6" stroke="#ff0000" stroke-width="1"/><rect x="673.5" y="205.4" width="2" height="15.7" fill="#000" stroke="#ff0000" stroke-width="1"/><path d="M678.5 198.0V212.0" stroke="#00ffff" stroke-width="1"/><rect x="677.0" y="204.9" width="3" height="4.1" fill="#00ffff"/><path d="M681.5 204.4V220.6" stroke="#00ffff" stroke-width="1"/><rect x="680.0" y="204.9" width="3" height="10.6" fill="#00ffff"/><path d="M684.5 214.0V239.8" stroke="#00ffff" stroke-width="1"/><rect x="683.0" y="215.5" width="3" height="22.3" fill="#00ffff"/><path d="M687.5 230.0V255.0" stroke="#00ffff" stroke-width="1"/><rect x="686.0" y="236.8" width="3" height="13.7" fill="#00ffff"/><path d="M690.5 243.9V249.4" stroke="#ff0000" stroke-width="1"/><path d="M690.5 252.0V253.0" stroke="#ff0000" stroke-width="1"/><rect x="689.5" y="249.9" width="2" height="1.6" fill="#000" stroke="#ff0000" stroke-width="1"/><path d="M693.5 241.3V263.6" stroke="#00ffff" stroke-width="1"/><rect x="692.0" y="249.0" width="3" height="9.6" fill="#00ffff"/><path d="M697.5 252.0V253.5" stroke="#ff0000" stroke-width="1"/><path d="M697.5 259.6V265.7" stroke="#ff0000" stroke-width="1"/><rect x="696.5" y="254.0" width="2" height="5.1" fill="#000" stroke="#ff0000" stroke-width="1"/><path d="M700.5 250.0V255.0" stroke="#ff0000" stroke-width="1"/><path d="M700.5 259.6V260.6" stroke="#ff0000" stroke-width="1"/><rect x="699.5" y="255.5" width="2" height="3.6" fill="#000" stroke="#ff0000" stroke-width="1"/><path d="M703.5 236.0V243.9" stroke="#ff0000" stroke-width="1"/><path d="M703.5 258.6V261.6" stroke="#ff0000" stroke-width="1"/><rect x="702.5" y="244.4" width="2" height="13.7" fill="#000" stroke="#ff0000" stroke-width="1"/><path d="M706.5 236.0V246.0" stroke="#00ffff" stroke-width="1"/><rect x="705.0" y="242.0" width="3" height="3.0" fill="#00ffff"/><path d="M709.5 243.0V267.7" stroke="#00ffff" stroke-width="1"/><rect x="708.0" y="243.4" width="3" height="12.1" fill="#00ffff"/><path d="M712.5 250.5V253.0" stroke="#ff0000" stroke-width="1"/><path d="M712.5 256.0V264.6" stroke="#ff0000" stroke-width="1"/><rect x="711.5" y="253.5" width="2" height="2.0" fill="#000" stroke="#ff0000" stroke-width="1"/><path d="M716.5 247.0V269.7" stroke="#00ffff" stroke-width="1"/><rect x="715.0" y="254.0" width="3" height="10.6" fill="#00ffff"/><path d="M719.5 263.6V283.0" stroke="#00ffff" stroke-width="1"/><rect x="718.0" y="264.0" width="3" height="6.0" fill="#00ffff"/><path d="M722.5 254.0V259.0" stroke="#ff0000" stroke-width="1"/><path d="M722.5 268.0V277.0" stroke="#ff0000" stroke-width="1"/><rect x="721.5" y="259.5" width="2" height="8.0" fill="#000" stroke="#ff0000" stroke-width="1"/><path d="M725.5 254.0V273.8" stroke="#00ffff" stroke-width="1"/><rect x="724.0" y="256.5" width="3" height="4.1" fill="#00ffff"/><path d="M728.5 247.0V258.6" stroke="#ff0000" stroke-width="1"/><path d="M728.5 261.0V262.0" stroke="#ff0000" stroke-width="1"/><rect x="727.5" y="259.1" width="2" height="1.4" fill="#000" stroke="#ff0000" stroke-width="1"/><path d="M731.5 250.0V252.0" stroke="#ff0000" stroke-width="1"/><path d="M731.5 260.6V262.0" stroke="#ff0000" stroke-width="1"/><rect x="730.5" y="252.5" width="2" height="7.6" fill="#000" stroke="#ff0000" stroke-width="1"/><path d="M735.5 243.9V264.6" stroke="#00ffff" stroke-width="1"/><rect x="734.0" y="252.0" width="3" height="5.6" fill="#00ffff"/><path d="M738.5 253.0V255.5" stroke="#ff0000" stroke-width="1"/><path d="M738.5 257.6V263.6" stroke="#ff0000" stroke-width="1"/><rect x="737.5" y="256.0" width="2" height="1.1" fill="#000" stroke="#ff0000" stroke-width="1"/><path d="M741.5 254.0V265.0" stroke="#00ffff" stroke-width="1"/><rect x="740.0" y="255.0" width="3" height="7.6" fill="#00ffff"/><path d="M744.5 260.0V293.0" stroke="#00ffff" stroke-width="1"/><rect x="743.0" y="262.5" width="3" height="25.4" fill="#00ffff"/><path d="M747.5 284.0V296.0" stroke="#00ffff" stroke-width="1"/><rect x="746.0" y="287.9" width="3" height="2.0" fill="#00ffff"/><path d="M750.5 289.0V325.8" stroke="#00ffff" stroke-width="1"/><rect x="749.0" y="289.9" width="3" height="31.9" fill="#00ffff"/><path d="M754.5 317.0V326.8" stroke="#ff0000" stroke-width="1"/><path d="M754.5 336.0V338.0" stroke="#ff0000" stroke-width="1"/><rect x="753.5" y="327.3" width="2" height="8.2" fill="#000" stroke="#ff0000" stroke-width="1"/><path d="M757.5 325.3V342.5" stroke="#00ffff" stroke-width="1"/><rect x="756.0" y="326.8" width="3" height="14.7" fill="#00ffff"/><path d="M760.5 324.8V326.8" stroke="#ff0000" stroke-width="1"/><path d="M760.5 342.6V346.0" stroke="#ff0000" stroke-width="1"/><rect x="759.5" y="327.3" width="2" height="14.8" fill="#000" stroke="#ff0000" stroke-width="1"/><path d="M763.5 326.0V355.8" stroke="#00ffff" stroke-width="1"/><rect x="762.0" y="326.8" width="3" height="22.9" fill="#00ffff"/><path d="M766.5 342.6V371.5" stroke="#00ffff" stroke-width="1"/><rect x="765.0" y="343.8" width="3" height="23.2" fill="#00ffff"/><path d="M770.5 356.0V366.0" stroke="#ff0000" stroke-width="1"/><path d="M770.5 371.5V374.0" stroke="#ff0000" stroke-width="1"/><rect x="769.5" y="366.5" width="2" height="4.5" fill="#000" stroke="#ff0000" stroke-width="1"/><path d="M773.5 358.0V377.0" stroke="#00ffff" stroke-width="1"/><rect x="772.0" y="366.0" width="3" height="2.0" fill="#00ffff"/><path d="M776.5 351.0V355.8" stroke="#ff0000" stroke-width="1"/><path d="M776.5 367.0V370.0" stroke="#ff0000" stroke-width="1"/><rect x="775.5" y="356.3" width="2" height="10.2" fill="#000" stroke="#ff0000" stroke-width="1"/><path d="M779.5 353.0V354.8" stroke="#ff0000" stroke-width="1"/><path d="M779.5 357.3V366.0" stroke="#ff0000" stroke-width="1"/><rect x="778.5" y="355.3" width="2" height="1.5" fill="#000" stroke="#ff0000" stroke-width="1"/><path d="M782.5 333.4V334.4" stroke="#ff0000" stroke-width="1"/><path d="M782.5 356.8V371.0" stroke="#ff0000" stroke-width="1"/><rect x="781.5" y="334.9" width="2" height="21.4" fill="#000" stroke="#ff0000" stroke-width="1"/><path d="M785.5 321.0V345.6" stroke="#00ffff" stroke-width="1"/><rect x="784.0" y="335.0" width="3" height="5.5" fill="#00ffff"/><path d="M789.5 335.0V350.7" stroke="#00ffff" stroke-width="1"/><rect x="788.0" y="339.0" width="3" height="10.7" fill="#00ffff"/><path d="M792.5 330.0V335.0" stroke="#ff0000" stroke-width="1"/><path d="M792.5 349.7V351.7" stroke="#ff0000" stroke-width="1"/><rect x="791.5" y="335.5" width="2" height="13.7" fill="#000" stroke="#ff0000" stroke-width="1"/><path d="M795.5 319.0V321.3" stroke="#ff0000" stroke-width="1"/><path d="M795.5 338.5V342.6" stroke="#ff0000" stroke-width="1"/><rect x="794.5" y="321.8" width="2" height="16.2" fill="#000" stroke="#ff0000" stroke-width="1"/><path d="M798.5 304.0V307.0" stroke="#ff0000" stroke-width="1"/><path d="M798.5 324.3V325.3" stroke="#ff0000" stroke-width="1"/><rect x="797.5" y="307.5" width="2" height="16.3" fill="#000" stroke="#ff0000" stroke-width="1"/><path d="M801.5 300.0V315.7" stroke="#00ffff" stroke-width="1"/><rect x="800.0" y="306.4" width="3" height="3.9" fill="#00ffff"/><path d="M804.5 308.0V333.4" stroke="#00ffff" stroke-width="1"/><rect x="803.0" y="309.0" width="3" height="21.0" fill="#00ffff"/><path d="M808.5 322.8V324.8" stroke="#ff0000" stroke-width="1"/><path d="M808.5 335.0V340.0" stroke="#ff0000" stroke-width="1"/><rect x="807.5" y="325.3" width="2" height="9.2" fill="#000" stroke="#ff0000" stroke-width="1"/><path d="M811.5 318.7V321.8" stroke="#ff0000" stroke-width="1"/><path d="M811.5 327.9V335.0" stroke="#ff0000" stroke-width="1"/><rect x="810.5" y="322.3" width="2" height="5.1" fill="#000" stroke="#ff0000" stroke-width="1"/><path d="M814.5 310.0V315.7" stroke="#ff0000" stroke-width="1"/><path d="M814.5 324.3V333.0" stroke="#ff0000" stroke-width="1"/><rect x="813.5" y="316.2" width="2" height="7.6" fill="#000" stroke="#ff0000" stroke-width="1"/><path d="M817.5 310.0V317.5" stroke="#00ffff" stroke-width="1"/><rect x="816.0" y="312.0" width="3" height="4.5" fill="#00ffff"/><path d="M820.5 304.0V306.0" stroke="#ff0000" stroke-width="1"/><path d="M820.5 317.0V318.0" stroke="#ff0000" stroke-width="1"/><rect x="819.5" y="306.5" width="2" height="10.0" fill="#000" stroke="#ff0000" stroke-width="1"/><path d="M823.5 304.6V322.8" stroke="#00ffff" stroke-width="1"/><rect x="822.0" y="306.0" width="3" height="5.5" fill="#00ffff"/><path d="M827.5 308.0V328.0" stroke="#00ffff" stroke-width="1"/><rect x="826.0" y="311.6" width="3" height="6.9" fill="#00ffff"/><path d="M830.5 317.0V327.0" stroke="#00ffff" stroke-width="1"/><rect x="829.0" y="318.5" width="3" height="5.5" fill="#00ffff"/><path d="M833.5 319.3V342.0" stroke="#00ffff" stroke-width="1"/><rect x="832.0" y="321.6" width="3" height="17.4" fill="#00ffff"/><path d="M836.5 307.0V309.8" stroke="#ff0000" stroke-width="1"/><path d="M836.5 339.0V340.0" stroke="#ff0000" stroke-width="1"/><rect x="835.5" y="310.3" width="2" height="28.2" fill="#000" stroke="#ff0000" stroke-width="1"/><path d="M839.5 294.0V296.0" stroke="#ff0000" stroke-width="1"/><path d="M839.5 311.8V314.8" stroke="#ff0000" stroke-width="1"/><rect x="838.5" y="296.5" width="2" height="14.8" fill="#000" stroke="#ff0000" stroke-width="1"/><path d="M842.5 278.0V284.0" stroke="#ff0000" stroke-width="1"/><path d="M842.5 295.3V303.7" stroke="#ff0000" stroke-width="1"/><rect x="841.5" y="284.5" width="2" height="10.3" fill="#000" stroke="#ff0000" stroke-width="1"/><path d="M846.5 277.2V290.6" stroke="#00ffff" stroke-width="1"/><rect x="845.0" y="285.0" width="3" height="2.0" fill="#00ffff"/><path d="M849.5 277.0V280.0" stroke="#ff0000" stroke-width="1"/><path d="M849.5 287.6V289.6" stroke="#ff0000" stroke-width="1"/><rect x="848.5" y="280.5" width="2" height="6.6" fill="#000" stroke="#ff0000" stroke-width="1"/><path d="M852.5 265.0V268.8" stroke="#ff0000" stroke-width="1"/><path d="M852.5 280.0V281.0" stroke="#ff0000" stroke-width="1"/><rect x="851.5" y="269.3" width="2" height="10.2" fill="#000" stroke="#ff0000" stroke-width="1"/><path d="M855.5 257.7V260.2" stroke="#ff0000" stroke-width="1"/><path d="M855.5 272.4V283.0" stroke="#ff0000" stroke-width="1"/><rect x="854.5" y="260.7" width="2" height="11.2" fill="#000" stroke="#ff0000" stroke-width="1"/><path d="M858.5 256.0V273.9" stroke="#00ffff" stroke-width="1"/><rect x="857.0" y="259.7" width="3" height="12.1" fill="#00ffff"/><path d="M861.5 271.3V279.0" stroke="#00ffff" stroke-width="1"/><rect x="860.0" y="271.8" width="3" height="2.1" fill="#00ffff"/><path d="M865.5 266.0V268.8" stroke="#ff0000" stroke-width="1"/><path d="M865.5 274.4V285.0" stroke="#ff0000" stroke-width="1"/><rect x="864.5" y="269.3" width="2" height="4.6" fill="#000" stroke="#ff0000" stroke-width="1"/><path d="M868.5 265.0V278.0" stroke="#00ffff" stroke-width="1"/><rect x="867.0" y="266.8" width="3" height="8.6" fill="#00ffff"/><path d="M871.5 261.0V281.0" stroke="#00ffff" stroke-width="1"/><rect x="870.0" y="271.8" width="3" height="4.1" fill="#00ffff"/><path d="M874.5 265.0V281.5" stroke="#00ffff" stroke-width="1"/><rect x="873.0" y="272.9" width="3" height="3.0" fill="#00ffff"/><path d="M877.5 265.0V268.8" stroke="#ff0000" stroke-width="1"/><path d="M877.5 275.4V278.0" stroke="#ff0000" stroke-width="1"/><rect x="876.5" y="269.3" width="2" height="5.6" fill="#000" stroke="#ff0000" stroke-width="1"/><path d="M881.5 266.0V291.0" stroke="#00ffff" stroke-width="1"/><rect x="880.0" y="268.8" width="3" height="16.2" fill="#00ffff"/><path d="M884.5 268.8V269.3" stroke="#ff0000" stroke-width="1"/><path d="M884.5 284.5V286.0" stroke="#ff0000" stroke-width="1"/><rect x="883.5" y="269.8" width="2" height="14.2" fill="#000" stroke="#ff0000" stroke-width="1"/><path d="M887.5 264.0V267.3" stroke="#ff0000" stroke-width="1"/><path d="M887.5 285.0V286.0" stroke="#ff0000" stroke-width="1"/><rect x="886.5" y="267.8" width="2" height="16.7" fill="#000" stroke="#ff0000" stroke-width="1"/><path d="M890.5 254.0V260.7" stroke="#ff0000" stroke-width="1"/><path d="M890.5 268.8V269.8" stroke="#ff0000" stroke-width="1"/><rect x="889.5" y="261.2" width="2" height="7.1" fill="#000" stroke="#ff0000" stroke-width="1"/><path d="M893.5 255.6V268.8" stroke="#00ffff" stroke-width="1"/><rect x="892.0" y="259.7" width="3" height="7.1" fill="#00ffff"/><path d="M896.5 266.0V274.0" stroke="#00ffff" stroke-width="1"/><rect x="895.0" y="266.8" width="3" height="4.5" fill="#00ffff"/><path d="M900.5 261.0V288.0" stroke="#00ffff" stroke-width="1"/><rect x="899.0" y="272.4" width="3" height="14.6" fill="#00ffff"/><path d="M903.5 281.0V284.0" stroke="#ff0000" stroke-width="1"/><path d="M903.5 286.5V293.6" stroke="#ff0000" stroke-width="1"/><rect x="902.5" y="284.5" width="2" height="1.5" fill="#000" stroke="#ff0000" stroke-width="1"/><path d="M906.5 268.8V274.4" stroke="#ff0000" stroke-width="1"/><path d="M906.5 285.5V292.6" stroke="#ff0000" stroke-width="1"/><rect x="905.5" y="274.9" width="2" height="10.1" fill="#000" stroke="#ff0000" stroke-width="1"/><path d="M909.5 263.0V265.8" stroke="#ff0000" stroke-width="1"/><path d="M909.5 273.9V275.0" stroke="#ff0000" stroke-width="1"/><rect x="908.5" y="266.3" width="2" height="7.1" fill="#000" stroke="#ff0000" stroke-width="1"/><path d="M912.5 264.0V282.0" stroke="#00ffff" stroke-width="1"/><rect x="911.0" y="266.8" width="3" height="13.2" fill="#00ffff"/><path d="M915.5 276.4V277.4" stroke="#ff0000" stroke-width="1"/><path d="M915.5 280.0V282.0" stroke="#ff0000" stroke-width="1"/><rect x="914.5" y="277.9" width="2" height="1.6" fill="#000" stroke="#ff0000" stroke-width="1"/><path d="M919.5 277.2V284.0" stroke="#00ffff" stroke-width="1"/><rect x="918.0" y="279.0" width="3" height="2.5" fill="#00ffff"/></g>
<polyline points="173.5,83.2 177.4,84.5 180.4,85.5 183.4,86.7 186.2,87.5 189.4,88.4 192.5,88.8 196.3,89.5 199.3,90.2 202.4,89.9 205.4,89.4 208.5,89.4 211.8,88.8 215.5,88.6 218.6,88.9 221.6,89.1 224.4,89.3 227.7,88.8 230.3,88.5 234.2,88.3 237.4,88.1 240.4,88.0 243.4,87.6 246.5,87.1 249.5,87.0 253.2,87.5 256.3,87.7 259.3,88.6 262.4,89.8 265.4,90.8 268.5,92.2 272.4,93.9 275.4,96.4 278.5,99.0 281.5,101.8 284.6,104.7 287.4,107.7 291.5,111.2 294.5,114.6 297.4,118.1 300.5,122.1 303.5,126.0 307.4,130.2 310.4,133.8 313.4,137.9 316.5,141.5 319.5,145.2 322.5,148.9 326.4,152.9 329.4,156.4 332.5,159.7 335.5,162.7 338.6,165.5 341.6,168.5 345.5,172.6 348.6,176.3 351.5,180.0 354.6,184.4 357.5,188.4 360.5,191.7 364.5,194.6 367.4,196.7 370.4,198.7 373.5,200.7 376.5,202.8 379.5,205.1 383.4,207.9 386.4,210.5 389.4,212.9 392.5,215.5 395.5,218.2 398.5,220.0 402.4,221.8 405.5,223.8 408.5,225.3 411.4,226.6 414.5,228.6 418.3,231.5 421.4,234.3 424.5,237.0 427.5,239.6 430.5,242.2 433.6,245.2 437.3,247.2 440.4,249.0 443.3,250.2 446.4,251.7 449.4,252.9 452.4,253.2 456.4,253.3 459.5,253.8 462.5,254.1 465.3,254.2 468.4,254.0 471.4,253.5 475.5,253.4 478.5,253.1 481.5,253.0 484.6,252.9 487.4,252.8 490.5,252.4 494.6,252.0 497.6,251.5 500.6,251.4 503.5,251.1 506.5,251.2 509.5,250.9 513.5,250.5 516.5,249.7 519.5,249.3 522.5,249.5 525.5,249.5 529.3,249.6 532.4,249.9 535.4,249.4 538.4,249.2 541.5,248.9 544.5,248.1 548.3,247.5 551.5,247.1 554.5,247.1 557.6,247.6 560.6,248.1 563.5,248.9 567.5,249.8 570.5,250.4 573.5,250.7 576.5,250.6 579.5,250.9 582.4,251.1 586.5,251.0 589.5,251.5 592.5,252.1 595.4,252.5 598.4,252.8 601.5,253.3 605.5,253.8 608.6,253.8 611.5,253.6 614.5,253.2 617.6,253.2 620.6,253.0 624.7,252.3 627.5,252.2 630.5,252.0 633.6,252.0 636.6,252.0 640.4,251.7 643.4,252.0 646.5,252.0 649.5,251.6 652.4,251.2 655.4,250.5 659.4,250.0 662.5,250.0 665.5,249.3 668.6,249.1 671.4,248.5 674.4,247.6 678.5,246.6 681.4,245.8 684.5,245.2 687.5,244.6 690.5,244.1 693.5,243.7 697.4,243.2 700.4,243.0 703.4,242.9 706.5,242.8 709.5,242.6 712.6,242.2 716.4,241.9 719.4,241.9 722.5,241.5 725.5,241.4 728.6,241.2 731.5,241.1 735.4,241.0 738.6,240.9 741.6,240.9 744.6,241.2 747.5,241.6 750.5,242.4 754.5,243.1 757.5,244.2 760.5,245.3 763.5,247.0 766.5,249.2 770.4,251.4 773.4,253.6 776.4,255.5 779.4,257.3 782.5,259.0 785.5,260.7 789.5,262.6 792.5,264.2 795.6,265.1 798.6,265.8 801.6,266.8 804.6,268.2 808.5,269.4 811.5,270.8 814.5,272.1 817.5,273.3 820.5,274.3 823.6,275.5 827.5,276.9 830.5,278.8 833.6,280.9 836.5,282.8 839.5,284.5 842.5,285.9 846.4,287.5 849.5,289.0 852.4,290.1 855.5,291.1 858.5,291.9 861.5,292.8 865.4,293.8 868.4,294.9 871.5,295.9 874.5,296.6 877.6,296.9 881.4,297.5 884.4,297.6 887.5,297.9 890.5,298.0 893.6,298.4 896.5,298.8 900.6,299.3 903.6,299.8 906.6,300.0 909.5,299.9 912.5,300.3 915.5,300.6 919.4,300.9" fill="none" stroke="#ff0000" stroke-width="1" stroke-linejoin="round" shape-rendering="crispEdges"/>
<polyline points="78.5,97.2 81.6,99.4 85.6,100.3 88.4,101.0 91.5,102.1 94.5,103.2 97.4,104.3 100.4,105.0 104.4,105.7 107.5,104.9 110.5,102.9 113.6,101.3 116.4,99.3 119.4,97.9 123.5,96.3 126.4,94.2 129.5,93.1 132.5,90.8 135.6,88.8 138.6,87.6 142.5,86.4 145.6,86.3 148.7,85.4 151.7,82.9 154.4,79.5 157.4,76.8 161.6,74.1 164.5,72.2 167.4,70.8 170.5,69.4 173.5,69.2 177.4,69.5 180.4,70.8 183.4,72.3 186.2,72.9 189.4,73.6 192.5,73.3 196.3,74.0 199.3,74.7 202.4,75.0 205.4,75.9 208.5,77.5 211.8,78.4 215.5,79.3 218.6,81.5 221.6,84.0 224.4,85.5 227.7,86.8 230.3,88.1 234.2,89.1 237.4,89.9 240.4,89.8 243.4,89.8 246.5,91.3 249.5,94.6 253.2,98.2 256.3,101.3 259.3,104.9 262.4,108.8 265.4,112.2 268.5,115.3 272.4,118.4 275.4,122.0 278.5,125.8 281.5,130.7 284.6,135.8 287.4,142.1 291.5,148.3 294.5,154.4 297.4,161.3 300.5,168.2 303.5,174.6 307.4,182.1 310.4,188.3 313.4,194.3 316.5,199.1 319.5,205.0 322.5,211.0 326.4,217.7 329.4,223.7 332.5,229.5 335.5,235.6 338.6,241.2 341.6,245.7 345.5,250.6 348.6,254.5 351.5,258.8 354.6,263.8 357.5,267.9 360.5,271.1 364.5,273.9 367.4,275.0 370.4,275.4 373.5,275.6 376.5,274.9 379.5,274.5 383.4,273.7 386.4,272.8 389.4,271.4 392.5,269.7 395.5,268.1 398.5,265.4 402.4,261.6 405.5,259.3 408.5,256.4 411.4,254.1 414.5,252.3 418.3,252.0 421.4,251.0 424.5,250.4 427.5,249.6 430.5,248.8 433.6,249.2 437.3,248.7 440.4,247.4 443.3,245.9 446.4,244.6 449.4,241.9 452.4,238.4 456.4,235.6 459.5,233.7 462.5,233.2 465.3,232.9 468.4,232.4 471.4,232.1 475.5,232.4 478.5,232.5 481.5,233.1 484.6,234.4 487.4,236.0 490.5,236.7 494.6,238.5 497.6,241.5 500.6,243.6 503.5,245.8 506.5,248.3 509.5,249.4 513.5,249.0 516.5,248.3 519.5,248.3 522.5,249.3 525.5,250.1 529.3,249.9 532.4,251.0 535.4,251.4 538.4,252.5 541.5,253.2 544.5,254.2 548.3,256.5 551.5,258.7 554.5,260.5 557.6,262.0 560.6,263.3 563.5,265.4 567.5,267.6 570.5,268.5 573.5,268.8 576.5,268.1 579.5,267.3 582.4,266.2 586.5,265.3 589.5,264.5 592.5,262.7 595.4,261.3 598.4,259.8 601.5,258.3 605.5,258.3 608.6,258.6 611.5,258.9 614.5,258.2 617.6,257.1 620.6,255.9 624.7,254.7 627.5,253.4 630.5,252.6 633.6,251.6 636.6,250.8 640.4,249.2 643.4,247.6 646.5,245.3 649.5,242.7 652.4,240.5 655.4,237.6 659.4,234.7 662.5,232.3 665.5,230.2 668.6,229.4 671.4,228.9 674.4,228.0 678.5,227.0 681.4,226.3 684.5,225.9 687.5,226.5 690.5,226.8 693.5,227.6 697.4,228.0 700.4,227.7 703.4,227.1 706.5,226.7 709.5,227.1 712.6,227.2 716.4,228.0 719.4,229.2 722.5,229.6 725.5,230.1 728.6,230.8 731.5,231.3 735.4,232.8 738.6,234.2 741.6,236.5 744.6,239.7 747.5,242.7 750.5,247.1 754.5,251.5 757.5,256.2 760.5,260.4 763.5,264.6 766.5,269.4 770.4,274.8 773.4,280.1 776.4,284.8 779.4,288.7 782.5,291.5 785.5,294.5 789.5,297.6 792.5,300.3 795.6,302.5 798.6,304.6 801.6,306.8 804.6,309.3 808.5,311.6 811.5,313.6 814.5,315.1 817.5,317.0 820.5,318.5 823.6,320.3 827.5,322.5 830.5,324.7 833.6,327.5 836.5,329.1 839.5,329.3 842.5,329.1 846.4,328.0 849.5,326.4 852.4,324.0 855.5,321.8 858.5,319.2 861.5,316.1 865.4,312.8 868.4,309.7 871.5,307.1 874.5,304.4 877.6,302.3 881.4,300.4 884.4,297.7 887.5,295.5 890.5,293.5 893.6,292.1 896.5,290.8 900.6,289.4 903.6,288.0 906.6,286.4 909.5,284.8 912.5,283.6 915.5,282.6 919.4,281.6" fill="none" stroke="#ff00ff" stroke-width="1" stroke-linejoin="round" shape-rendering="crispEdges"/>
<polyline points="46.6,83.4 50.5,86.6 53.5,89.8 56.5,95.5 59.6,101.2 62.4,106.5 66.5,111.1 69.4,114.5 72.4,117.8 75.5,119.5 78.5,118.8 81.6,118.8 85.6,116.9 88.4,114.8 91.5,113.1 94.5,110.5 97.4,109.2 100.4,106.0 104.4,103.1 107.5,100.6 110.5,97.9 113.6,95.6 116.4,92.7 119.4,88.0 123.5,83.3 126.4,79.1 129.5,75.8 132.5,73.3 135.6,70.9 138.6,68.6 142.5,67.2 145.6,67.0 148.7,67.4 151.7,68.3 154.4,67.3 157.4,66.8 161.6,65.8 164.5,65.3 167.4,65.4 170.5,66.3 173.5,68.3 177.4,71.2 180.4,74.1 183.4,76.5 186.2,78.1 189.4,79.6 192.5,79.5 196.3,80.7 199.3,81.9 202.4,81.7 205.4,82.1 208.5,82.4 211.8,82.2 215.5,82.6 218.6,86.2 221.6,89.9 224.4,92.9 227.7,95.1 230.3,96.8 234.2,98.1 237.4,98.2 240.4,97.3 243.4,96.0 246.5,96.8 249.5,99.8 253.2,103.7 256.3,107.8 259.3,111.7 262.4,116.6 265.4,122.2 268.5,127.4 272.4,132.5 275.4,139.5 278.5,146.2 281.5,152.0 284.6,157.3 287.4,164.5 291.5,173.1 294.5,181.4 297.4,190.0 300.5,199.6 303.5,209.6 307.4,220.6 310.4,228.2 313.4,235.8 316.5,241.3 319.5,248.4 322.5,254.2 326.4,260.1 329.4,265.3 332.5,269.6 335.5,273.2 338.6,274.8 341.6,276.8 345.5,279.5 348.6,281.7 351.5,282.7 354.6,284.9 357.5,286.8 360.5,287.0 364.5,286.0 367.4,283.1 370.4,279.6 373.5,277.1 376.5,272.9 379.5,270.4 383.4,267.6 386.4,265.7 389.4,262.0 392.5,258.9 395.5,257.6 398.5,254.3 402.4,251.2 405.5,248.5 408.5,244.5 411.4,240.8 414.5,238.7 418.3,236.5 421.4,234.8 424.5,234.2 427.5,233.1 430.5,234.0 433.6,235.5 437.3,236.3 440.4,238.3 443.3,238.8 446.4,239.0 449.4,238.6 452.4,237.4 456.4,235.8 459.5,234.4 462.5,234.7 465.3,236.6 468.4,236.8 471.4,236.4 475.5,237.8 478.5,238.0 481.5,237.5 484.6,237.2 487.4,237.3 490.5,238.2 494.6,238.8 497.6,239.6 500.6,240.9 503.5,242.2 506.5,244.5 509.5,245.9 513.5,247.1 516.5,249.6 519.5,253.3 522.5,256.5 525.5,259.3 529.3,260.9 532.4,264.2 535.4,267.3 538.4,269.0 541.5,270.0 544.5,270.3 548.3,270.4 551.5,269.9 554.5,270.2 557.6,270.0 560.6,269.3 563.5,269.5 567.5,269.0 570.5,268.0 573.5,267.1 576.5,266.3 579.5,265.6 582.4,264.1 586.5,262.1 589.5,260.4 592.5,258.7 595.4,256.3 598.4,254.7 601.5,253.2 605.5,253.5 608.6,253.6 611.5,253.2 614.5,252.5 617.6,251.3 620.6,250.1 624.7,248.0 627.5,246.3 630.5,244.8 633.6,243.7 636.6,243.0 640.4,241.9 643.4,240.8 646.5,238.6 649.5,236.4 652.4,234.0 655.4,231.7 659.4,229.5 662.5,227.8 665.5,225.8 668.6,223.8 671.4,221.7 674.4,219.2 678.5,217.4 681.4,215.8 684.5,215.5 687.5,216.4 690.5,216.4 693.5,217.2 697.4,217.9 700.4,218.9 703.4,220.4 706.5,222.0 709.5,225.1 712.6,228.1 716.4,231.4 719.4,235.4 722.5,238.6 725.5,241.6 728.6,244.6 731.5,245.9 735.4,247.7 738.6,250.2 741.6,252.9 744.6,256.5 747.5,259.1 750.5,262.7 754.5,266.6 757.5,270.7 760.5,274.4 763.5,279.1 766.5,285.3 770.4,291.3 773.4,296.9 776.4,302.1 779.4,306.6 782.5,309.8 785.5,313.9 789.5,318.3 792.5,322.2 795.6,325.6 798.6,328.1 801.6,330.8 804.6,334.2 808.5,336.1 811.5,337.6 814.5,337.3 817.5,336.8 820.5,335.1 823.6,334.3 827.5,332.7 830.5,330.6 833.6,329.2 836.5,326.3 839.5,323.3 842.5,319.8 846.4,317.4 849.5,314.4 852.4,310.4 855.5,306.6 858.5,304.1 861.5,302.5 865.4,300.4 868.4,297.7 871.5,295.2 874.5,292.9 877.6,290.6 881.4,289.0 884.4,287.2 887.5,285.0 890.5,282.1 893.6,279.2 896.5,275.8 900.6,274.7 903.6,274.1 906.6,273.6 909.5,272.6 912.5,272.6 915.5,273.0 919.4,274.0" fill="none" stroke="#00ff00" stroke-width="1" stroke-linejoin="round" shape-rendering="crispEdges"/>
<polyline points="15.5,54.0 18.5,60.4 21.5,67.1 24.5,73.4 27.6,80.1 31.4,88.6 34.5,94.6 37.5,103.1 40.5,110.8 43.6,113.5 46.6,112.8 50.5,112.8 53.5,112.5 56.5,117.6 59.6,122.2 62.4,124.4 66.5,127.7 69.4,125.9 72.4,124.7 75.5,125.6 78.5,124.8 81.6,124.9 85.6,121.3 88.4,112.1 91.5,104.0 94.5,96.7 97.4,90.7 100.4,86.0 104.4,81.5 107.5,75.6 110.5,71.0 113.6,66.2 116.4,64.1 119.4,64.0 123.5,62.6 126.4,61.6 129.5,60.9 132.5,60.6 135.6,60.3 138.6,61.6 142.5,63.5 145.6,67.7 148.7,70.8 151.7,72.6 154.4,71.9 157.4,72.1 161.6,70.8 164.5,70.1 167.4,70.6 170.5,71.0 173.5,73.1 177.4,74.7 180.4,77.4 183.4,80.4 186.2,84.2 189.4,87.2 192.5,88.3 196.3,91.4 199.3,93.2 202.4,92.3 205.4,91.1 208.5,90.1 211.8,86.9 215.5,84.9 218.6,88.3 221.6,92.6 224.4,97.5 227.7,98.8 230.3,100.4 234.2,103.9 237.4,105.4 240.4,104.5 243.4,105.0 246.5,108.7 249.5,111.2 253.2,114.7 256.3,118.2 259.3,124.5 262.4,132.8 265.4,140.4 268.5,149.4 272.4,160.5 275.4,174.0 278.5,183.7 281.5,192.7 284.6,200.0 287.4,210.8 291.5,221.6 294.5,230.0 297.4,239.5 300.5,249.9 303.5,258.8 307.4,267.1 310.4,272.6 313.4,278.8 316.5,282.6 319.5,285.9 322.5,286.9 326.4,290.2 329.4,291.1 332.5,289.2 335.5,287.6 338.6,282.4 341.6,280.9 345.5,280.2 348.6,280.8 351.5,279.6 354.6,282.9 357.5,283.5 360.5,282.8 364.5,282.7 367.4,278.6 370.4,276.7 373.5,273.4 376.5,265.5 379.5,260.1 383.4,255.7 386.4,248.6 389.4,240.6 392.5,235.1 395.5,232.4 398.5,230.0 402.4,225.7 405.5,223.6 408.5,223.5 411.4,221.5 414.5,221.6 418.3,224.4 421.4,229.0 424.5,233.2 427.5,233.7 430.5,237.9 433.6,245.3 437.3,249.0 440.4,253.1 443.3,256.1 446.4,256.5 449.4,252.8 452.4,245.7 456.4,238.4 459.5,235.1 462.5,231.6 465.3,227.9 468.4,224.6 471.4,219.6 475.5,219.5 478.5,219.5 481.5,222.2 484.6,228.6 487.4,236.3 490.5,241.3 494.6,246.1 497.6,251.2 500.6,257.2 503.5,264.8 506.5,269.4 509.5,272.3 513.5,271.9 516.5,270.7 519.5,270.3 522.5,271.6 525.5,272.6 529.3,270.7 532.4,271.3 535.4,269.9 538.4,268.6 541.5,267.7 544.5,268.6 548.3,270.2 551.5,269.5 554.5,268.7 557.6,267.4 560.6,268.0 563.5,267.7 567.5,268.1 570.5,267.4 573.5,266.5 576.5,263.9 579.5,261.0 582.4,258.7 586.5,255.4 589.5,253.4 592.5,249.4 595.4,245.0 598.4,241.3 601.5,239.0 605.5,240.5 608.6,243.4 611.5,245.4 614.5,246.2 617.6,247.3 620.6,246.7 624.7,246.7 627.5,247.6 630.5,248.3 633.6,248.3 636.6,245.4 640.4,240.4 643.4,236.2 646.5,231.0 649.5,225.5 652.4,221.2 655.4,216.8 659.4,211.5 662.5,207.3 665.5,203.3 668.6,202.1 671.4,203.0 674.4,202.2 678.5,203.8 681.4,206.0 684.5,209.8 687.5,216.0 690.5,221.4 693.5,227.1 697.4,232.6 700.4,235.6 703.4,237.8 706.5,241.8 709.5,246.5 712.6,250.2 716.4,252.9 719.4,254.8 722.5,255.8 725.5,256.0 728.6,256.5 731.5,256.2 735.4,257.6 738.6,258.6 741.6,259.4 744.6,262.8 747.5,265.4 750.5,270.6 754.5,277.3 757.5,285.4 760.5,292.2 763.5,302.0 766.5,312.9 770.4,324.0 773.4,334.5 776.4,341.3 779.4,347.8 782.5,349.1 785.5,350.4 789.5,351.3 792.5,352.1 795.6,349.2 798.6,343.2 801.6,337.7 804.6,333.9 808.5,330.8 811.5,327.5 814.5,325.6 817.5,323.2 820.5,318.8 823.6,316.5 827.5,316.2 830.5,317.9 833.6,320.8 836.5,318.8 839.5,315.9 842.5,312.1 846.4,309.2 849.5,305.6 852.4,301.9 855.5,296.7 858.5,292.1 861.5,287.1 865.4,280.0 868.4,276.6 871.5,274.6 874.5,273.8 877.6,272.0 881.4,272.4 884.4,272.5 887.5,273.2 890.5,272.1 893.6,271.4 896.5,271.6 900.6,272.8 903.6,273.6 906.6,273.5 909.5,273.2 912.5,272.7 915.5,273.5 919.4,274.9" fill="none" stroke="#ffff00" stroke-width="1" stroke-linejoin="round" shape-rendering="crispEdges"/>
<polyline points="2.4,44.1 5.5,40.1 8.6,38.4 12.5,47.8 15.5,63.9 18.5,76.8 21.5,94.1 24.5,108.4 27.6,112.4 31.4,113.3 34.5,112.3 37.5,112.1 40.5,113.3 43.6,114.6 46.6,112.3 50.5,113.2 53.5,112.8 56.5,121.8 59.6,129.9 62.4,136.4 66.5,142.1 69.4,139.0 72.4,127.6 75.5,121.3 78.5,113.2 81.6,107.7 85.6,103.5 88.4,96.6 91.5,86.7 94.5,80.1 97.4,73.7 100.4,68.5 104.4,66.5 107.5,64.5 110.5,61.8 113.6,58.7 116.4,59.7 119.4,61.5 123.5,60.7 126.4,61.3 129.5,63.1 132.5,61.4 135.6,59.0 138.6,62.6 142.5,65.6 145.6,72.4 148.7,80.1 151.7,86.2 154.4,81.2 157.4,78.5 161.6,69.2 164.5,60.0 167.4,55.0 170.5,60.9 173.5,67.6 177.4,80.2 180.4,94.8 183.4,105.8 186.2,107.6 189.4,106.8 192.5,96.4 196.3,88.1 199.3,80.7 202.4,77.0 205.4,75.3 208.5,83.7 211.8,85.8 215.5,89.0 218.6,99.6 221.6,109.8 224.4,111.2 227.7,111.8 230.3,111.8 234.2,108.2 237.4,101.0 240.4,97.9 243.4,98.2 246.5,105.7 249.5,114.3 253.2,128.4 256.3,138.4 259.3,150.9 262.4,160.0 265.4,166.6 268.5,170.4 272.4,182.5 275.4,197.2 278.5,207.4 281.5,218.8 284.6,229.5 287.4,239.1 291.5,246.1 294.5,252.6 297.4,260.2 300.5,270.2 303.5,278.5 307.4,288.2 310.4,292.6 313.4,297.5 316.5,295.0 319.5,293.3 322.5,285.5 326.4,287.8 329.4,284.8 332.5,283.4 335.5,281.9 338.6,279.3 341.6,274.0 345.5,275.7 348.6,278.1 351.5,277.2 354.6,286.5 357.5,293.0 360.5,289.9 364.5,287.4 367.4,280.0 370.4,266.8 373.5,253.8 376.5,241.2 379.5,232.8 383.4,231.5 386.4,230.3 389.4,227.3 392.5,229.0 395.5,232.0 398.5,228.5 402.4,221.0 405.5,220.0 408.5,218.0 411.4,211.0 414.5,214.7 418.3,227.7 421.4,237.9 424.5,248.5 427.5,256.4 430.5,261.1 433.6,262.8 437.3,260.1 440.4,257.8 443.3,255.7 446.4,251.8 449.4,242.8 452.4,231.4 456.4,219.0 459.5,214.4 462.5,211.3 465.3,213.0 468.4,217.8 471.4,220.3 475.5,224.6 478.5,227.7 481.5,231.4 484.6,239.4 487.4,252.3 490.5,257.9 494.6,264.4 497.6,270.9 500.6,274.9 503.5,277.3 506.5,280.9 509.5,280.1 513.5,272.8 516.5,266.4 519.5,263.2 522.5,262.4 525.5,265.2 529.3,268.6 532.4,276.2 535.4,276.5 538.4,274.7 541.5,270.3 544.5,268.7 548.3,264.2 551.5,262.5 554.5,262.7 557.6,264.6 560.6,267.2 563.5,271.2 567.5,273.7 570.5,272.1 573.5,268.4 576.5,260.5 579.5,250.9 582.4,243.8 586.5,238.7 589.5,238.4 592.5,238.3 595.4,239.1 598.4,238.9 601.5,239.3 605.5,242.6 608.6,248.5 611.5,251.7 614.5,253.5 617.6,255.2 620.6,250.8 624.7,244.8 627.5,243.5 630.5,243.1 633.6,241.3 636.6,240.0 640.4,236.0 643.4,228.9 646.5,219.0 649.5,209.6 652.4,202.4 655.4,197.7 659.4,194.0 662.5,195.7 665.5,196.9 668.6,201.8 671.4,208.4 674.4,210.4 678.5,211.9 681.4,215.2 684.5,217.8 687.5,223.5 690.5,232.4 693.5,242.4 697.4,250.0 700.4,253.4 703.4,252.1 706.5,251.2 709.5,250.6 712.6,250.5 716.4,252.4 719.4,257.6 722.5,260.4 725.5,261.4 728.6,262.6 731.5,260.0 735.4,257.6 738.6,256.9 741.6,257.3 744.6,263.1 747.5,270.7 750.5,283.5 754.5,297.8 757.5,313.6 760.5,321.4 763.5,333.3 766.5,342.4 770.4,350.2 773.4,355.5 776.4,361.3 779.4,362.3 782.5,355.8 785.5,350.7 789.5,347.0 792.5,342.9 795.6,336.2 798.6,330.7 801.6,324.7 804.6,320.7 808.5,318.7 811.5,318.8 814.5,320.5 817.5,321.8 820.5,317.0 823.6,314.3 827.5,313.6 830.5,315.3 833.6,319.8 836.5,320.6 839.5,317.5 842.5,310.6 846.4,303.2 849.5,291.4 852.4,283.2 855.5,276.0 858.5,273.6 861.5,270.9 865.4,268.7 868.4,270.0 871.5,273.2 874.5,274.0 877.6,273.0 881.4,276.2 884.4,275.0 887.5,273.3 890.5,270.2 893.6,269.8 896.5,267.1 900.6,270.6 903.6,274.0 906.6,276.7 909.5,276.5 912.5,278.2 915.5,276.3 919.4,275.8" fill="none" stroke="#ffffff" stroke-width="1" stroke-linejoin="round" shape-rendering="crispEdges"/>
<line x1="103" y1="19.5" x2="947" y2="273.5" stroke="#fff" stroke-width="1" shape-rendering="crispEdges"/>
<line x1="1" y1="350.7" x2="947" y2="247.5" stroke="#fff" stroke-width="1" shape-rendering="crispEdges"/>
<line x1="777.9" y1="380.6" x2="947" y2="265.4" stroke="#fff" stroke-width="1" shape-rendering="crispEdges"/>
<line x1="917.5" y1="336" x2="917.5" y2="382" stroke="#ffff00" stroke-width="1"/>
<line x1="917.5" y1="551" x2="917.5" y2="573" stroke="#ffff00" stroke-width="1"/>
<polyline points="2.4,547.4 5.5,542.4 8.6,542.7 12.5,554.9 15.5,558.6 18.5,547.4 21.5,550.7 24.5,536.4 27.6,533.7 31.4,537.0 34.5,520.1 37.5,527.5 40.5,521.6 43.6,519.6 46.6,515.2 50.5,512.8 53.5,519.5 56.5,531.4 59.6,526.2 62.4,516.6 66.5,511.3 69.4,495.0 72.4,493.4 75.5,501.9 78.5,490.0 81.6,492.6 85.6,482.5 88.4,475.6 91.5,477.7 94.5,475.3 97.4,479.1 100.4,472.3 104.4,472.2 107.5,475.2 110.5,470.5 113.6,473.7 116.4,478.0 119.4,480.5 123.5,475.4 126.4,473.9 129.5,481.7 132.5,475.1 135.6,474.8 138.6,490.5 142.5,487.0 145.6,503.7 148.7,499.6 151.7,493.3 154.4,474.5 157.4,478.5 161.6,476.2 164.5,473.6 167.4,481.4 170.5,493.4 173.5,498.9 177.4,509.4 180.4,511.4 183.4,507.1 186.2,491.6 189.4,490.5 192.5,478.3 196.3,486.7 199.3,485.9 202.4,482.2 205.4,487.1 208.5,500.1 211.8,491.0 215.5,493.3 218.6,505.7 221.6,508.4 224.4,498.1 227.7,487.9 230.3,488.7 234.2,494.1 237.4,488.3 240.4,489.5 243.4,487.9 246.5,505.2 249.5,511.4 253.2,516.7 256.3,505.8 259.3,509.1 262.4,515.8 265.4,517.2 268.5,518.1 272.4,524.7 275.4,530.1 278.5,529.1 281.5,531.6 284.6,531.2 287.4,535.3 291.5,537.3 294.5,534.3 297.4,538.0 300.5,540.4 303.5,542.1 307.4,545.0 310.4,522.0 313.4,526.7 316.5,511.3 319.5,515.1 322.5,506.9 326.4,513.5 329.4,508.5 332.5,499.9 335.5,504.0 338.6,494.0 341.6,496.7 345.5,506.5 348.6,500.0 351.5,497.1 354.6,508.3 357.5,504.3 360.5,494.2 364.5,489.7 367.4,477.8 370.4,479.1 373.5,476.4 376.5,469.4 379.5,475.1 383.4,477.9 386.4,479.7 389.4,473.0 392.5,475.5 395.5,484.7 398.5,473.4 402.4,467.3 405.5,475.9 408.5,475.7 411.4,472.7 414.5,486.4 418.3,498.8 421.4,499.5 424.5,500.0 427.5,489.7 430.5,494.2 433.6,500.4 437.3,490.3 440.4,491.7 443.3,482.8 446.4,483.4 449.4,478.3 452.4,465.7 456.4,465.0 459.5,476.8 462.5,480.9 465.3,487.7 468.4,480.1 471.4,474.6 475.5,488.9 478.5,489.5 481.5,496.9 484.6,498.7 487.4,503.2 490.5,499.7 494.6,502.2 497.6,509.2 500.6,504.1 503.5,505.4 506.5,505.1 509.5,494.6 513.5,485.7 516.5,483.6 519.5,494.2 522.5,499.8 525.5,500.9 529.3,493.0 532.4,501.8 535.4,491.3 538.4,491.5 541.5,485.2 544.5,486.4 548.3,488.0 551.5,486.3 554.5,492.8 557.6,491.1 560.6,495.1 563.5,501.0 567.5,493.1 570.5,484.9 573.5,476.4 576.5,467.8 579.5,468.2 582.4,470.9 586.5,470.6 589.5,480.2 592.5,470.8 595.4,475.3 598.4,473.9 601.5,476.3 605.5,496.2 608.6,494.9 611.5,488.4 614.5,481.2 617.6,483.4 620.6,479.1 624.7,472.6 627.5,485.6 630.5,481.9 633.6,478.9 636.6,476.3 640.4,462.1 643.4,462.1 646.5,452.6 649.5,452.1 652.4,459.6 655.4,454.3 659.4,460.1 662.5,467.1 665.5,465.3 668.6,487.3 671.4,485.4 674.4,474.2 678.5,477.5 681.4,482.6 684.5,497.6 687.5,504.5 690.5,503.6 693.5,508.6 697.4,504.2 700.4,505.1 703.4,495.5 706.5,496.2 709.5,503.2 712.6,500.9 716.4,508.3 719.4,511.4 722.5,500.7 725.5,501.8 728.6,499.8 731.5,493.4 735.4,497.8 738.6,495.7 741.6,501.5 744.6,517.5 747.5,518.5 750.5,531.7 754.5,533.3 757.5,537.7 760.5,523.1 763.5,530.7 766.5,535.3 770.4,534.4 773.4,535.0 776.4,523.4 779.4,522.4 782.5,505.1 785.5,508.1 789.5,512.4 792.5,501.0 795.6,491.6 798.6,483.0 801.6,485.1 804.6,496.4 808.5,493.1 811.5,491.1 814.5,487.0 817.5,487.6 820.5,480.5 823.6,484.6 827.5,489.6 830.5,493.5 833.6,502.9 836.5,482.6 839.5,475.0 842.5,469.1 846.4,471.3 849.5,467.8 852.4,462.5 855.5,458.7 858.5,468.1 861.5,469.8 865.4,467.0 868.4,472.6 871.5,473.0 874.5,473.0 877.6,468.3 881.4,482.8 884.4,472.5 887.5,471.3 890.5,467.3 893.6,472.9 896.5,477.0 900.6,489.8 903.6,487.4 906.6,480.2 909.5,474.2 912.5,485.9 915.5,483.9 919.4,487.2" fill="none" stroke="#ffff00" stroke-width="1" stroke-linejoin="round" shape-rendering="crispEdges"/>
<polyline points="2.4,523.2 5.5,513.1 8.6,514.5 12.5,552.7 15.5,558.9 18.5,541.3 21.5,547.8 24.5,525.5 27.6,521.4 31.4,528.8 34.5,502.2 37.5,518.2 40.5,508.9 43.6,505.7 46.6,498.3 50.5,494.1 53.5,511.3 56.5,534.3 59.6,525.0 62.4,507.9 66.5,498.9 69.4,473.6 72.4,471.3 75.5,491.2 78.5,472.3 81.6,478.2 85.6,462.8 88.4,453.3 91.5,458.3 94.5,454.6 97.4,464.3 100.4,453.1 104.4,452.9 107.5,461.2 110.5,452.5 113.6,461.4 116.4,472.9 119.4,479.4 123.5,467.2 126.4,463.8 129.5,484.7 132.5,468.8 135.6,468.1 138.6,503.6 142.5,494.9 145.6,523.2 148.7,513.9 151.7,499.6 154.4,464.7 157.4,472.7 161.6,468.7 164.5,464.0 167.4,481.0 170.5,503.4 173.5,512.6 177.4,527.8 180.4,530.4 183.4,520.7 186.2,488.8 189.4,486.7 192.5,465.3 196.3,482.7 199.3,481.2 202.4,474.1 205.4,485.1 208.5,510.1 211.8,491.6 215.5,496.1 218.6,517.7 221.6,521.8 224.4,500.4 227.7,481.3 230.3,482.9 234.2,494.4 237.4,482.8 240.4,485.4 243.4,482.0 246.5,517.0 249.5,526.5 253.2,534.0 256.3,511.0 259.3,516.7 262.4,527.7 265.4,529.7 268.5,531.2 272.4,541.1 275.4,547.8 278.5,545.4 281.5,548.7 284.6,547.7 287.4,552.9 291.5,555.2 294.5,547.5 297.4,552.6 300.5,555.6 303.5,557.6 307.4,560.6 310.4,512.9 313.4,523.1 316.5,496.4 319.5,504.9 322.5,491.1 326.4,506.0 329.4,497.3 332.5,482.6 335.5,492.4 338.6,475.7 341.6,482.3 345.5,504.1 348.6,491.9 351.5,486.7 354.6,510.2 357.5,502.4 360.5,483.6 364.5,475.8 367.4,457.5 370.4,460.4 373.5,456.2 376.5,446.0 379.5,460.2 383.4,467.1 386.4,471.5 389.4,458.4 392.5,465.0 395.5,487.2 398.5,464.1 402.4,453.7 405.5,472.4 408.5,472.0 411.4,466.0 414.5,494.8 418.3,515.5 421.4,516.7 424.5,517.4 427.5,492.8 430.5,501.8 433.6,513.1 437.3,490.8 440.4,493.8 443.3,475.4 446.4,476.8 449.4,466.7 452.4,446.1 456.4,445.1 459.5,472.5 462.5,481.3 465.3,495.0 468.4,478.6 471.4,467.8 475.5,496.0 478.5,497.2 481.5,510.2 484.6,513.4 487.4,520.7 490.5,512.0 494.6,516.6 497.6,528.4 500.6,515.4 503.5,517.9 506.5,517.1 509.5,490.2 513.5,471.8 516.5,467.8 519.5,494.1 522.5,505.8 525.5,508.1 529.3,489.8 532.4,508.3 535.4,486.4 538.4,486.9 541.5,474.3 544.5,477.4 548.3,481.6 551.5,477.7 554.5,494.6 557.6,490.2 560.6,500.5 563.5,513.7 567.5,493.0 570.5,474.9 573.5,459.2 576.5,446.1 579.5,447.2 582.4,454.3 586.5,453.8 589.5,479.3 592.5,459.7 595.4,470.4 598.4,467.5 601.5,473.5 605.5,513.4 608.6,510.2 611.5,494.5 614.5,478.9 617.6,483.6 620.6,474.3 624.7,461.4 627.5,489.7 630.5,481.9 633.6,475.5 636.6,470.1 640.4,445.6 643.4,445.6 646.5,432.7 649.5,432.2 652.4,449.8 655.4,441.1 659.4,454.2 662.5,469.2 665.5,465.1 668.6,505.4 671.4,501.0 674.4,476.6 678.5,482.8 681.4,492.3 684.5,516.2 687.5,525.6 690.5,523.5 693.5,530.3 697.4,519.8 700.4,521.2 703.4,498.3 706.5,499.9 709.5,514.0 712.6,508.3 716.4,522.3 719.4,527.6 722.5,502.3 725.5,504.6 728.6,499.9 731.5,485.1 735.4,496.4 738.6,491.3 741.6,505.5 744.6,533.8 747.5,535.2 750.5,550.6 754.5,552.2 757.5,556.2 760.5,527.7 763.5,539.0 766.5,545.1 770.4,543.4 773.4,544.2 776.4,520.9 779.4,519.1 782.5,487.5 785.5,494.8 789.5,505.0 792.5,484.7 795.6,470.0 798.6,457.9 801.6,463.1 804.6,489.4 808.5,483.3 811.5,479.7 814.5,472.2 817.5,473.7 820.5,460.6 823.6,471.8 827.5,484.7 830.5,494.0 833.6,513.7 836.5,472.9 839.5,460.9 842.5,452.3 846.4,457.2 849.5,451.6 852.4,443.7 855.5,438.5 858.5,460.3 861.5,464.0 865.4,458.6 868.4,471.7 871.5,472.7 874.5,472.7 877.6,461.1 881.4,494.8 884.4,471.0 887.5,468.4 890.5,460.2 893.6,473.4 896.5,482.5 900.6,507.0 903.6,501.0 906.6,483.4 909.5,470.7 912.5,494.2 915.5,489.8 919.4,496.4" fill="none" stroke="#ffffff" stroke-width="1" stroke-linejoin="round" shape-rendering="crispEdges"/>
<rect x="947.5" y="17.5" width="49" height="16" fill="#000" stroke="#fff" stroke-width="1"/>
</svg>
<div class="t cj" style="left:17px;top:1px;">美</div>
<div class="t cj" style="left:35px;top:1px;">元</div>
<div class="t cj" style="left:53px;top:1px;">指</div>
<div class="t cj" style="left:71px;top:1px;">数</div>
<div class="t cj" style="left:119px;top:1px;">日</div>
<div class="t cj" style="left:137px;top:1px;">线</div>
<div class="t" style="left:89px;top:0.1px;color:#ffff00;font-size:13px;line-height:15.6px;transform:scaleX(0.79);">(8151)</div>
<div class="t" style="left:182.5px;top:1.3px;color:#ffffff;font-size:12px;line-height:14.4px;transform:scaleX(0.885);">MA5:84.87</div>
<div class="t" style="left:287.6px;top:1.3px;color:#ffff00;font-size:12px;line-height:14.4px;transform:scaleX(0.885);">MA10:84.90</div>
<div class="t" style="left:392.9px;top:1.3px;color:#00ff00;font-size:12px;line-height:14.4px;transform:scaleX(0.885);">MA20:84.93</div>
<div class="t" style="left:497.6px;top:1.3px;color:#ff00ff;font-size:12px;line-height:14.4px;transform:scaleX(0.885);">MA30:84.73</div>
<div class="t" style="left:602.9px;top:1.3px;color:#ff0000;font-size:12px;line-height:14.4px;transform:scaleX(0.885);">MA60:84.22</div>
<div class="t" style="left:952.7px;top:18.9px;color:#ffff00;font-size:12px;line-height:14.4px;transform:scaleX(0.885);">84.70</div>
<div class="t" style="left:949.8px;top:74.9px;color:#c40000;font-size:12px;line-height:14.4px;transform:scaleX(0.885);">90.00</div>
<div class="t" style="left:949.8px;top:264.9px;color:#c40000;font-size:12px;line-height:14.4px;transform:scaleX(0.885);">85.00</div>
<div class="t" style="left:949.8px;top:429.9px;color:#c40000;font-size:12px;line-height:14.4px;transform:scaleX(0.885);">80</div>
<div class="t" style="left:949.8px;top:480.9px;color:#c40000;font-size:12px;line-height:14.4px;transform:scaleX(0.885);">50</div>
<div class="t" style="left:949.8px;top:532.9px;color:#c40000;font-size:12px;line-height:14.4px;transform:scaleX(0.885);">20</div>
<div class="t" style="left:6.6px;top:384.7px;color:#ffff00;font-size:12px;line-height:14.4px;transform:scaleX(0.885);">RSI(7,14)</div>
<div class="t" style="left:142.3px;top:384.7px;color:#ffffff;font-size:12px;line-height:14.4px;transform:scaleX(0.885);">RSI1:43.00</div>
<div class="t" style="left:247.6px;top:384.7px;color:#ffff00;font-size:12px;line-height:14.4px;transform:scaleX(0.885);">RSI2:49.31</div>
<div class="t" style="left:-4.8px;top:577.1px;color:#ffffff;font-size:14px;line-height:16.8px;transform:scaleX(0.968);font-weight:bold;">01/03</div>
<div class="t" style="left:65px;top:577.1px;color:#ffffff;font-size:14px;line-height:16.8px;transform:scaleX(0.968);font-weight:bold;">02/02</div>
<div class="t" style="left:135px;top:577.1px;color:#ffffff;font-size:14px;line-height:16.8px;transform:scaleX(0.968);font-weight:bold;">03/06</div>
<div class="t" style="left:204px;top:577.1px;color:#ffffff;font-size:14px;line-height:16.8px;transform:scaleX(0.968);font-weight:bold;">04/05</div>
<div class="t" style="left:274px;top:577.1px;color:#ffffff;font-size:14px;line-height:16.8px;transform:scaleX(0.968);font-weight:bold;">05/05</div>
<div class="t" style="left:344px;top:577.1px;color:#ffffff;font-size:14px;line-height:16.8px;transform:scaleX(0.968);font-weight:bold;">06/06</div>
<div class="t" style="left:413.4px;top:577.1px;color:#ffffff;font-size:14px;line-height:16.8px;transform:scaleX(0.968);font-weight:bold;">07/06</div>
<div class="t" style="left:483.3px;top:577.1px;color:#ffffff;font-size:14px;line-height:16.8px;transform:scaleX(0.968);font-weight:bold;">08/07</div>
<div class="t" style="left:552.8px;top:577.1px;color:#ffffff;font-size:14px;line-height:16.8px;transform:scaleX(0.968);font-weight:bold;">09/06</div>
<div class="t" style="left:622.6px;top:577.1px;color:#ffffff;font-size:14px;line-height:16.8px;transform:scaleX(0.968);font-weight:bold;">10/06</div>
<div class="t" style="left:693.1px;top:577.1px;color:#ffffff;font-size:14px;line-height:16.8px;transform:scaleX(0.968);font-weight:bold;">11/07</div>
<div class="t" style="left:763.1px;top:577.1px;color:#ffffff;font-size:14px;line-height:16.8px;transform:scaleX(0.968);font-weight:bold;">12/07</div>
<div class="t" style="left:832.4px;top:577.1px;color:#ffffff;font-size:14px;line-height:16.8px;transform:scaleX(0.968);font-weight:bold;">01/09</div>
<div class="t" style="left:901.7px;top:577.1px;color:#ffffff;font-size:14px;line-height:16.8px;transform:scaleX(0.968);font-weight:bold;">02/08</div>
</div></body></html>
